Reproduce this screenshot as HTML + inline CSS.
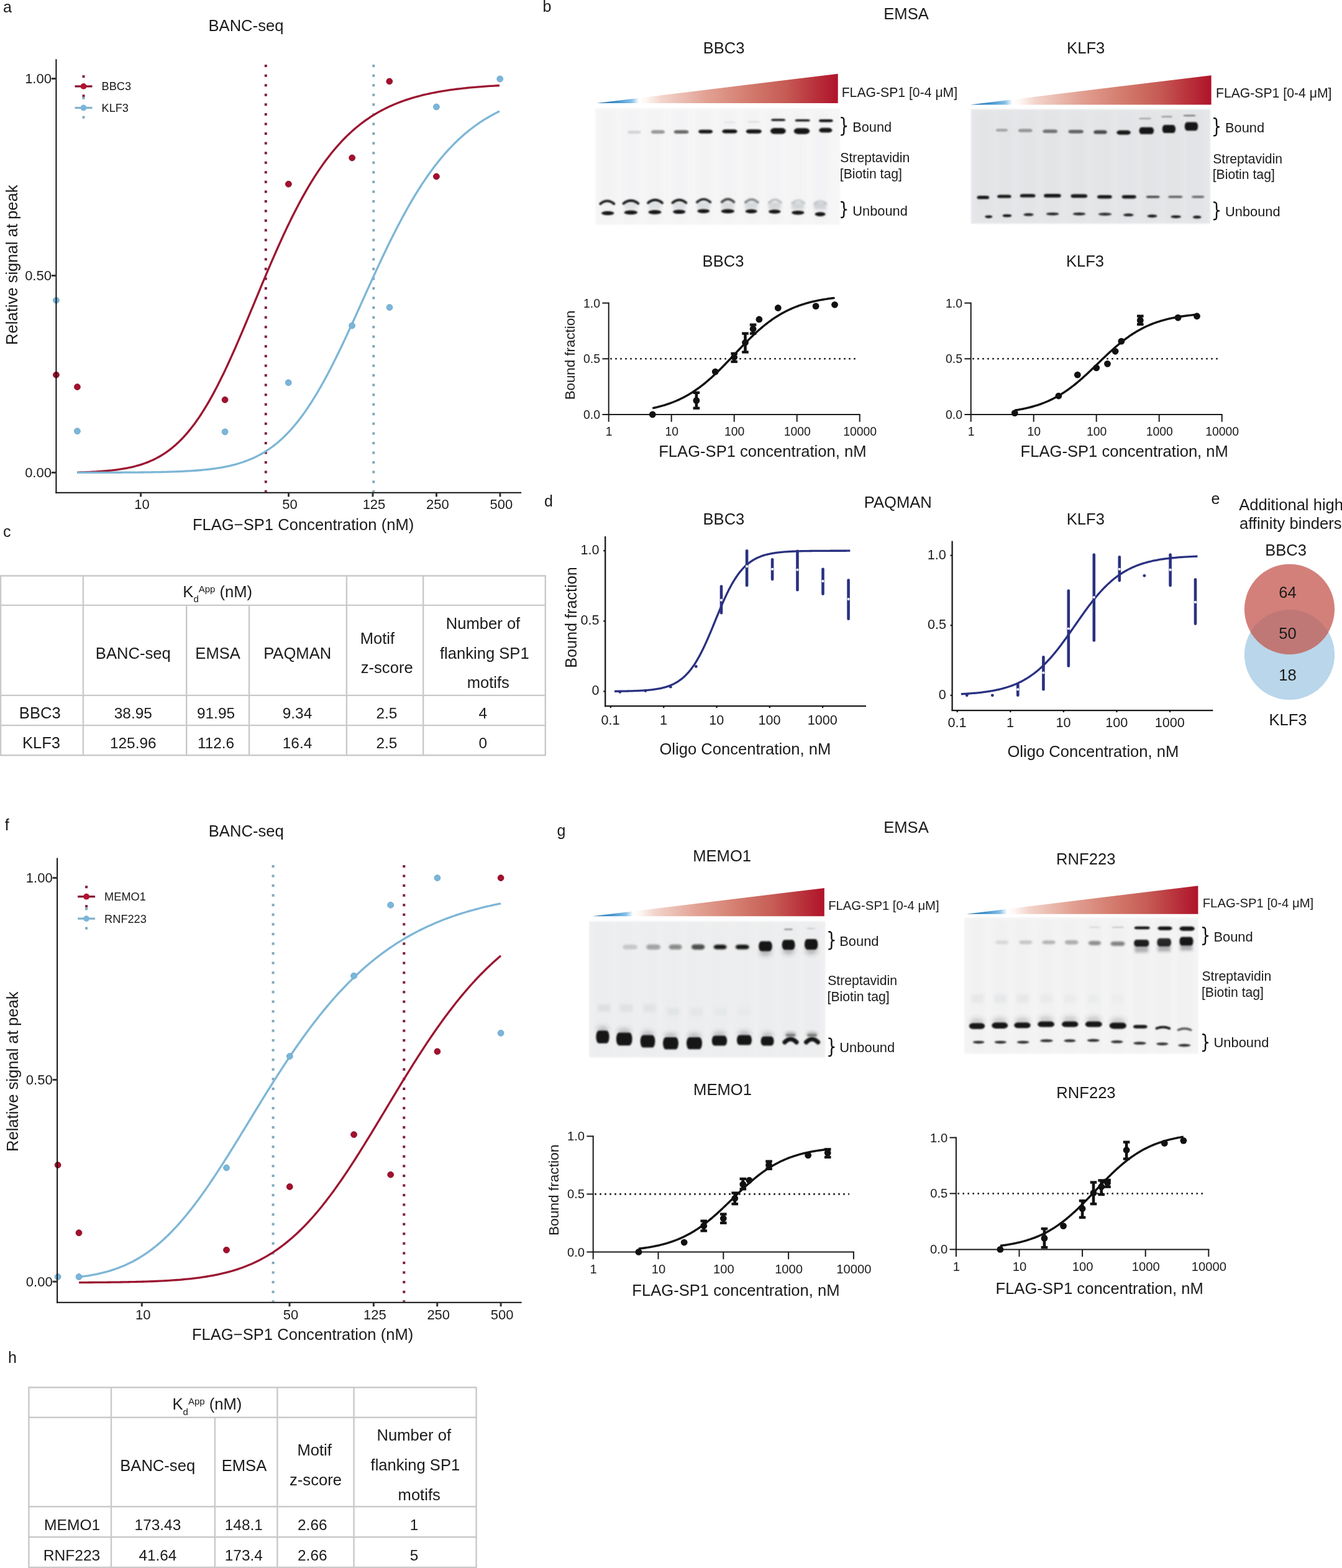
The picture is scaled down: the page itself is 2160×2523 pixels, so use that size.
<!DOCTYPE html>
<html><head><meta charset="utf-8"><title>Figure</title>
<style>
html,body{margin:0;padding:0;background:#fff;}
body{width:2160px;height:2523px;overflow:hidden;}
svg{display:block;}
text{font-family:'Liberation Sans', Arial, Helvetica, sans-serif;}
</style></head><body>
<svg xmlns="http://www.w3.org/2000/svg" width="2160" height="2523" viewBox="0 0 2160 2523">
<defs>
<filter id="b1" x="-100%" y="-400%" width="300%" height="900%"><feGaussianBlur stdDeviation="1.1"/></filter>
<filter id="b15" x="-100%" y="-300%" width="300%" height="700%"><feGaussianBlur stdDeviation="1.6"/></filter>
<filter id="b2" x="-100%" y="-300%" width="300%" height="700%"><feGaussianBlur stdDeviation="2"/></filter>
<filter id="b3" x="-100%" y="-100%" width="300%" height="300%"><feGaussianBlur stdDeviation="3.5"/></filter>
<filter id="b5" x="-20%" y="-20%" width="140%" height="140%"><feGaussianBlur stdDeviation="5"/></filter>
<linearGradient id="tri" x1="0" y1="0" x2="1" y2="0">
<stop offset="0" stop-color="#1d6aab"/>
<stop offset="0.08" stop-color="#3f8fcb"/>
<stop offset="0.145" stop-color="#86c0e6"/>
<stop offset="0.175" stop-color="#ffffff"/>
<stop offset="0.205" stop-color="#fdf6f3"/>
<stop offset="0.27" stop-color="#f2d4cb"/>
<stop offset="0.45" stop-color="#e2a294"/>
<stop offset="0.62" stop-color="#d47e70"/>
<stop offset="0.78" stop-color="#c65c55"/>
<stop offset="0.9" stop-color="#b9333c"/>
<stop offset="1" stop-color="#b0132a"/>
</linearGradient>
<clipPath id="vennclip"><circle cx="2075.5" cy="980.3" r="72.6"/></clipPath>
</defs>
<text x="4.94" y="20.2" font-size="25" text-anchor="start" fill="#1a1a1a">a</text>
<text x="873.49" y="18.5" font-size="25" text-anchor="start" fill="#1a1a1a">b</text>
<text x="5.04" y="863.9" font-size="25" text-anchor="start" fill="#1a1a1a">c</text>
<text x="876.05" y="814.6" font-size="25" text-anchor="start" fill="#1a1a1a">d</text>
<text x="1949.44" y="811.2" font-size="25" text-anchor="start" fill="#1a1a1a">e</text>
<text x="7.75" y="1336.3" font-size="25" text-anchor="start" fill="#1a1a1a">f</text>
<text x="896.45" y="1345.2" font-size="25" text-anchor="start" fill="#1a1a1a">g</text>
<text x="13.07" y="2192.8" font-size="25" text-anchor="start" fill="#1a1a1a">h</text>
<text x="335.5" y="49.5" font-size="25.6" text-anchor="start" fill="#1a1a1a">BANC-seq</text>
<line x1="427.8" y1="104.1" x2="427.8" y2="791.8" stroke="#7e1e42" stroke-width="4" stroke-dasharray="4 11.56"/>
<line x1="601.3" y1="104.1" x2="601.3" y2="791.8" stroke="#80a8bc" stroke-width="4" stroke-dasharray="4 11.56"/>
<path d="M124.3 760.2 L127.4 760.11 L130.51 760.01 L133.61 759.91 L136.71 759.8 L139.82 759.68 L142.92 759.54 L146.03 759.4 L149.13 759.25 L152.23 759.08 L155.34 758.9 L158.44 758.7 L161.54 758.49 L164.65 758.26 L167.75 758.02 L170.85 757.75 L173.96 757.47 L177.06 757.16 L180.17 756.82 L183.27 756.47 L186.37 756.08 L189.48 755.67 L192.58 755.22 L195.68 754.74 L198.79 754.23 L201.89 753.68 L204.99 753.09 L208.1 752.45 L211.2 751.77 L214.31 751.05 L217.41 750.27 L220.51 749.43 L223.62 748.54 L226.72 747.59 L229.82 746.58 L232.93 745.5 L236.03 744.35 L239.14 743.12 L242.24 741.81 L245.34 740.43 L248.45 738.95 L251.55 737.39 L254.65 735.73 L257.76 733.98 L260.86 732.12 L263.96 730.16 L267.07 728.08 L270.17 725.89 L273.28 723.58 L276.38 721.15 L279.48 718.59 L282.59 715.91 L285.69 713.08 L288.79 710.12 L291.9 707.02 L295 703.78 L298.1 700.39 L301.21 696.84 L304.31 693.15 L307.42 689.3 L310.52 685.3 L313.62 681.14 L316.73 676.82 L319.83 672.34 L322.93 667.71 L326.04 662.91 L329.14 657.96 L332.24 652.85 L335.35 647.58 L338.45 642.16 L341.56 636.59 L344.66 630.87 L347.76 625 L350.87 619 L353.97 612.86 L357.07 606.58 L360.18 600.18 L363.28 593.66 L366.38 587.03 L369.49 580.28 L372.59 573.43 L375.7 566.49 L378.8 559.46 L381.9 552.35 L385.01 545.16 L388.11 537.92 L391.21 530.61 L394.32 523.25 L397.42 515.86 L400.53 508.43 L403.63 500.98 L406.73 493.51 L409.84 486.03 L412.94 478.56 L416.04 471.09 L419.15 463.64 L422.25 456.21 L425.35 448.81 L428.46 441.46 L431.56 434.14 L434.67 426.88 L437.77 419.68 L440.87 412.54 L443.98 405.47 L447.08 398.48 L450.18 391.56 L453.29 384.74 L456.39 378 L459.49 371.36 L462.6 364.82 L465.7 358.38 L468.81 352.04 L471.91 345.81 L475.01 339.69 L478.12 333.69 L481.22 327.8 L484.32 322.02 L487.43 316.36 L490.53 310.82 L493.63 305.4 L496.74 300.11 L499.84 294.93 L502.95 289.87 L506.05 284.93 L509.15 280.11 L512.26 275.41 L515.36 270.83 L518.46 266.37 L521.57 262.02 L524.67 257.79 L527.77 253.67 L530.88 249.67 L533.98 245.78 L537.09 242 L540.19 238.33 L543.29 234.76 L546.4 231.3 L549.5 227.94 L552.6 224.68 L555.71 221.52 L558.81 218.45 L561.92 215.48 L565.02 212.61 L568.12 209.82 L571.23 207.12 L574.33 204.51 L577.43 201.99 L580.54 199.54 L583.64 197.17 L586.74 194.89 L589.85 192.67 L592.95 190.54 L596.06 188.47 L599.16 186.47 L602.26 184.54 L605.37 182.68 L608.47 180.88 L611.57 179.14 L614.68 177.47 L617.78 175.85 L620.88 174.28 L623.99 172.78 L627.09 171.32 L630.2 169.92 L633.3 168.56 L636.4 167.26 L639.51 166 L642.61 164.78 L645.71 163.61 L648.82 162.48 L651.92 161.4 L655.02 160.35 L658.13 159.34 L661.23 158.36 L664.34 157.42 L667.44 156.52 L670.54 155.65 L673.65 154.81 L676.75 154 L679.85 153.22 L682.96 152.47 L686.06 151.75 L689.16 151.06 L692.27 150.39 L695.37 149.74 L698.48 149.12 L701.58 148.53 L704.68 147.95 L707.79 147.4 L710.89 146.86 L713.99 146.35 L717.1 145.86 L720.2 145.38 L723.31 144.93 L726.41 144.49 L729.51 144.06 L732.62 143.65 L735.72 143.26 L738.82 142.89 L741.93 142.52 L745.03 142.17 L748.13 141.84 L751.24 141.51 L754.34 141.2 L757.45 140.9 L760.55 140.62 L763.65 140.34 L766.76 140.07 L769.86 139.82 L772.96 139.57 L776.07 139.33 L779.17 139.11 L782.27 138.89 L785.38 138.68 L788.48 138.47 L791.59 138.28 L794.69 138.09 L797.79 137.91 L800.9 137.74 L804 137.57" fill="none" stroke="#9b1631" stroke-width="3.3" stroke-linejoin="round" stroke-linecap="butt"/>
<path d="M124.3 760.4 L127.4 760.4 L130.51 760.39 L133.61 760.39 L136.71 760.39 L139.82 760.38 L142.92 760.38 L146.03 760.37 L149.13 760.37 L152.23 760.36 L155.34 760.36 L158.44 760.35 L161.54 760.35 L164.65 760.34 L167.75 760.33 L170.85 760.32 L173.96 760.32 L177.06 760.31 L180.17 760.3 L183.27 760.28 L186.37 760.27 L189.48 760.26 L192.58 760.25 L195.68 760.23 L198.79 760.22 L201.89 760.2 L204.99 760.18 L208.1 760.16 L211.2 760.14 L214.31 760.12 L217.41 760.09 L220.51 760.07 L223.62 760.04 L226.72 760.01 L229.82 759.98 L232.93 759.94 L236.03 759.9 L239.14 759.86 L242.24 759.82 L245.34 759.77 L248.45 759.72 L251.55 759.67 L254.65 759.61 L257.76 759.55 L260.86 759.48 L263.96 759.41 L267.07 759.34 L270.17 759.25 L273.28 759.17 L276.38 759.07 L279.48 758.97 L282.59 758.86 L285.69 758.74 L288.79 758.62 L291.9 758.49 L295 758.34 L298.1 758.19 L301.21 758.02 L304.31 757.85 L307.42 757.66 L310.52 757.46 L313.62 757.24 L316.73 757.01 L319.83 756.76 L322.93 756.5 L326.04 756.22 L329.14 755.92 L332.24 755.6 L335.35 755.25 L338.45 754.89 L341.56 754.5 L344.66 754.08 L347.76 753.64 L350.87 753.17 L353.97 752.66 L357.07 752.13 L360.18 751.56 L363.28 750.95 L366.38 750.31 L369.49 749.63 L372.59 748.9 L375.7 748.13 L378.8 747.31 L381.9 746.44 L385.01 745.53 L388.11 744.55 L391.21 743.52 L394.32 742.43 L397.42 741.28 L400.53 740.06 L403.63 738.77 L406.73 737.42 L409.84 735.99 L412.94 734.48 L416.04 732.89 L419.15 731.22 L422.25 729.46 L425.35 727.61 L428.46 725.67 L431.56 723.63 L434.67 721.49 L437.77 719.25 L440.87 716.91 L443.98 714.46 L447.08 711.9 L450.18 709.22 L453.29 706.43 L456.39 703.52 L459.49 700.48 L462.6 697.33 L465.7 694.05 L468.81 690.64 L471.91 687.11 L475.01 683.44 L478.12 679.64 L481.22 675.71 L484.32 671.65 L487.43 667.45 L490.53 663.12 L493.63 658.66 L496.74 654.06 L499.84 649.34 L502.95 644.48 L506.05 639.49 L509.15 634.38 L512.26 629.14 L515.36 623.78 L518.46 618.3 L521.57 612.7 L524.67 606.99 L527.77 601.17 L530.88 595.24 L533.98 589.22 L537.09 583.09 L540.19 576.88 L543.29 570.58 L546.4 564.2 L549.5 557.74 L552.6 551.22 L555.71 544.63 L558.81 537.98 L561.92 531.29 L565.02 524.55 L568.12 517.77 L571.23 510.95 L574.33 504.12 L577.43 497.26 L580.54 490.39 L583.64 483.52 L586.74 476.64 L589.85 469.77 L592.95 462.92 L596.06 456.08 L599.16 449.27 L602.26 442.49 L605.37 435.75 L608.47 429.04 L611.57 422.39 L614.68 415.78 L617.78 409.24 L620.88 402.75 L623.99 396.33 L627.09 389.98 L630.2 383.7 L633.3 377.5 L636.4 371.38 L639.51 365.34 L642.61 359.39 L645.71 353.53 L648.82 347.76 L651.92 342.09 L655.02 336.51 L658.13 331.03 L661.23 325.64 L664.34 320.36 L667.44 315.18 L670.54 310.1 L673.65 305.12 L676.75 300.25 L679.85 295.47 L682.96 290.81 L686.06 286.24 L689.16 281.78 L692.27 277.43 L695.37 273.17 L698.48 269.02 L701.58 264.96 L704.68 261.01 L707.79 257.16 L710.89 253.4 L713.99 249.74 L717.1 246.18 L720.2 242.71 L723.31 239.34 L726.41 236.06 L729.51 232.86 L732.62 229.76 L735.72 226.74 L738.82 223.81 L741.93 220.96 L745.03 218.2 L748.13 215.51 L751.24 212.9 L754.34 210.38 L757.45 207.92 L760.55 205.54 L763.65 203.24 L766.76 201 L769.86 198.83 L772.96 196.73 L776.07 194.69 L779.17 192.72 L782.27 190.81 L785.38 188.96 L788.48 187.17 L791.59 185.44 L794.69 183.76 L797.79 182.13 L800.9 180.56 L804 179.04" fill="none" stroke="#7db6d6" stroke-width="3.3" stroke-linejoin="round" stroke-linecap="butt"/>
<circle cx="626.8" cy="130.9" r="4.9" fill="#a50f2d" stroke="#7c0c22" stroke-width="0.9"/>
<circle cx="566.7" cy="254" r="4.9" fill="#a50f2d" stroke="#7c0c22" stroke-width="0.9"/>
<circle cx="464.4" cy="296.2" r="4.9" fill="#a50f2d" stroke="#7c0c22" stroke-width="0.9"/>
<circle cx="702.4" cy="284" r="4.9" fill="#a50f2d" stroke="#7c0c22" stroke-width="0.9"/>
<circle cx="362.1" cy="643.3" r="4.9" fill="#a50f2d" stroke="#7c0c22" stroke-width="0.9"/>
<circle cx="124.4" cy="622.6" r="4.9" fill="#a50f2d" stroke="#7c0c22" stroke-width="0.9"/>
<circle cx="90.4" cy="603.2" r="4.9" fill="#a50f2d" stroke="#7c0c22" stroke-width="0.9"/>
<circle cx="804.7" cy="127" r="4.9" fill="#7ab6da" stroke="#6aa3c6" stroke-width="0.9"/>
<circle cx="702.4" cy="172" r="4.9" fill="#7ab6da" stroke="#6aa3c6" stroke-width="0.9"/>
<circle cx="627" cy="494.6" r="4.9" fill="#7ab6da" stroke="#6aa3c6" stroke-width="0.9"/>
<circle cx="566.6" cy="524" r="4.9" fill="#7ab6da" stroke="#6aa3c6" stroke-width="0.9"/>
<circle cx="464.2" cy="615.7" r="4.9" fill="#7ab6da" stroke="#6aa3c6" stroke-width="0.9"/>
<circle cx="362.1" cy="694.8" r="4.9" fill="#7ab6da" stroke="#6aa3c6" stroke-width="0.9"/>
<circle cx="124.4" cy="693.7" r="4.9" fill="#7ab6da" stroke="#6aa3c6" stroke-width="0.9"/>
<circle cx="90.4" cy="483.3" r="4.9" fill="#7ab6da" stroke="#6aa3c6" stroke-width="0.9"/>
<line x1="90.4" y1="95.3" x2="90.4" y2="793.8" stroke="#111" stroke-width="2"/>
<line x1="89.4" y1="792.8" x2="839.1" y2="792.8" stroke="#111" stroke-width="2"/>
<line x1="82.9" y1="126.5" x2="90.4" y2="126.5" stroke="#333" stroke-width="3"/>
<text x="82.96" y="133.9" font-size="22" text-anchor="end" fill="#1a1a1a">1.00</text>
<line x1="82.9" y1="443.45" x2="90.4" y2="443.45" stroke="#333" stroke-width="3"/>
<text x="82.96" y="450.85" font-size="22" text-anchor="end" fill="#1a1a1a">0.50</text>
<line x1="82.9" y1="760.4" x2="90.4" y2="760.4" stroke="#333" stroke-width="3"/>
<text x="82.96" y="767.8" font-size="22" text-anchor="end" fill="#1a1a1a">0.00</text>
<line x1="226.6" y1="792.8" x2="226.6" y2="799.3" stroke="#333" stroke-width="3"/>
<text x="228.6" y="819.3" font-size="22" text-anchor="middle" fill="#1a1a1a">10</text>
<line x1="464.53" y1="792.8" x2="464.53" y2="799.3" stroke="#333" stroke-width="3"/>
<text x="466.53" y="819.3" font-size="22" text-anchor="middle" fill="#1a1a1a">50</text>
<line x1="599.99" y1="792.8" x2="599.99" y2="799.3" stroke="#333" stroke-width="3"/>
<text x="601.99" y="819.3" font-size="22" text-anchor="middle" fill="#1a1a1a">125</text>
<line x1="702.46" y1="792.8" x2="702.46" y2="799.3" stroke="#333" stroke-width="3"/>
<text x="704.46" y="819.3" font-size="22" text-anchor="middle" fill="#1a1a1a">250</text>
<line x1="804.93" y1="792.8" x2="804.93" y2="799.3" stroke="#333" stroke-width="3"/>
<text x="806.93" y="819.3" font-size="22" text-anchor="middle" fill="#1a1a1a">500</text>
<text x="309.9" y="852.5" font-size="25.6" text-anchor="start" fill="#1a1a1a">FLAG−SP1 Concentration (nM)</text>
<text x="27.7" y="426.2" font-size="25.6" text-anchor="middle" fill="#1a1a1a" transform="rotate(-90 27.7 426.2)">Relative signal at peak</text>
<rect x="132.5" y="121.1" width="4" height="4" fill="#7e1e42"/>
<rect x="132.5" y="152.2" width="4" height="4" fill="#7e1e42"/>
<line x1="120.5" y1="138.9" x2="148.5" y2="138.9" stroke="#861834" stroke-width="3.3"/>
<circle cx="134.5" cy="138.9" r="4.9" fill="#b3112f" stroke="none" stroke-width="0"/>
<text x="163.51" y="145.4" font-size="18.2" text-anchor="start" fill="#1a1a1a">BBC3</text>
<rect x="132.5" y="155.8" width="4" height="4" fill="#80a8bc"/>
<rect x="132.5" y="186.7" width="4" height="4" fill="#80a8bc"/>
<line x1="120.5" y1="173.5" x2="148.5" y2="173.5" stroke="#84b2cb" stroke-width="3.3"/>
<circle cx="134.5" cy="173.5" r="4.9" fill="#7ab6da" stroke="none" stroke-width="0"/>
<text x="163.51" y="180" font-size="18.2" text-anchor="start" fill="#1a1a1a">KLF3</text>
<text x="335.8" y="1345.7" font-size="25.6" text-anchor="start" fill="#1a1a1a">BANC-seq</text>
<line x1="439.6" y1="1392" x2="439.6" y2="2094.7" stroke="#80a8bc" stroke-width="4" stroke-dasharray="4 11.56"/>
<line x1="650.3" y1="1392" x2="650.3" y2="2094.7" stroke="#7e1e42" stroke-width="4" stroke-dasharray="4 11.56"/>
<path d="M127.1 2054.7 L130.2 2054.32 L133.3 2053.91 L136.4 2053.48 L139.5 2053.02 L142.6 2052.54 L145.7 2052.02 L148.8 2051.47 L151.9 2050.88 L155 2050.27 L158.1 2049.61 L161.2 2048.92 L164.3 2048.18 L167.4 2047.41 L170.5 2046.59 L173.6 2045.73 L176.7 2044.82 L179.8 2043.87 L182.9 2042.86 L186 2041.81 L189.1 2040.7 L192.2 2039.53 L195.3 2038.31 L198.4 2037.03 L201.5 2035.69 L204.6 2034.29 L207.7 2032.82 L210.8 2031.3 L213.9 2029.7 L217 2028.04 L220.1 2026.31 L223.2 2024.51 L226.3 2022.63 L229.4 2020.68 L232.5 2018.66 L235.6 2016.57 L238.7 2014.4 L241.8 2012.15 L244.9 2009.82 L248 2007.41 L251.1 2004.93 L254.2 2002.36 L257.3 1999.71 L260.4 1996.99 L263.5 1994.18 L266.6 1991.29 L269.7 1988.32 L272.8 1985.27 L275.9 1982.13 L279 1978.92 L282.1 1975.63 L285.2 1972.26 L288.3 1968.8 L291.4 1965.27 L294.5 1961.67 L297.6 1957.98 L300.7 1954.23 L303.8 1950.39 L306.9 1946.49 L310 1942.52 L313.1 1938.47 L316.2 1934.36 L319.3 1930.18 L322.4 1925.94 L325.5 1921.63 L328.6 1917.27 L331.7 1912.85 L334.8 1908.37 L337.9 1903.84 L341 1899.25 L344.1 1894.62 L347.2 1889.94 L350.3 1885.21 L353.4 1880.45 L356.5 1875.64 L359.6 1870.8 L362.7 1865.93 L365.8 1861.02 L368.9 1856.08 L372 1851.12 L375.1 1846.13 L378.2 1841.13 L381.3 1836.1 L384.4 1831.06 L387.5 1826 L390.6 1820.94 L393.7 1815.87 L396.8 1810.79 L399.9 1805.7 L403 1800.62 L406.1 1795.54 L409.2 1790.47 L412.3 1785.4 L415.4 1780.34 L418.5 1775.29 L421.6 1770.25 L424.7 1765.23 L427.8 1760.23 L430.9 1755.24 L434 1750.28 L437.1 1745.34 L440.2 1740.43 L443.3 1735.54 L446.4 1730.69 L449.5 1725.86 L452.6 1721.06 L455.7 1716.3 L458.8 1711.58 L461.9 1706.89 L465 1702.24 L468.1 1697.62 L471.2 1693.05 L474.3 1688.52 L477.4 1684.03 L480.5 1679.59 L483.6 1675.19 L486.7 1670.83 L489.8 1666.52 L492.9 1662.26 L496 1658.04 L499.1 1653.88 L502.2 1649.76 L505.3 1645.69 L508.4 1641.67 L511.5 1637.7 L514.6 1633.78 L517.7 1629.92 L520.8 1626.1 L523.9 1622.33 L527 1618.62 L530.1 1614.96 L533.2 1611.35 L536.3 1607.79 L539.4 1604.28 L542.5 1600.82 L545.6 1597.42 L548.7 1594.07 L551.8 1590.77 L554.9 1587.52 L558 1584.32 L561.1 1581.17 L564.2 1578.08 L567.3 1575.03 L570.4 1572.03 L573.5 1569.09 L576.6 1566.19 L579.7 1563.34 L582.8 1560.54 L585.9 1557.79 L589 1555.09 L592.1 1552.43 L595.2 1549.82 L598.3 1547.26 L601.4 1544.74 L604.5 1542.27 L607.6 1539.85 L610.7 1537.46 L613.8 1535.13 L616.9 1532.83 L620 1530.58 L623.1 1528.37 L626.2 1526.21 L629.3 1524.08 L632.4 1522 L635.5 1519.95 L638.6 1517.95 L641.7 1515.98 L644.8 1514.05 L647.9 1512.16 L651 1510.31 L654.1 1508.5 L657.2 1506.72 L660.3 1504.98 L663.4 1503.27 L666.5 1501.59 L669.6 1499.95 L672.7 1498.35 L675.8 1496.77 L678.9 1495.23 L682 1493.72 L685.1 1492.25 L688.2 1490.8 L691.3 1489.38 L694.4 1488 L697.5 1486.64 L700.6 1485.31 L703.7 1484.01 L706.8 1482.73 L709.9 1481.49 L713 1480.26 L716.1 1479.07 L719.2 1477.9 L722.3 1476.76 L725.4 1475.64 L728.5 1474.54 L731.6 1473.47 L734.7 1472.43 L737.8 1471.4 L740.9 1470.4 L744 1469.42 L747.1 1468.46 L750.2 1467.52 L753.3 1466.6 L756.4 1465.7 L759.5 1464.83 L762.6 1463.97 L765.7 1463.13 L768.8 1462.31 L771.9 1461.51 L775 1460.72 L778.1 1459.95 L781.2 1459.2 L784.3 1458.47 L787.4 1457.75 L790.5 1457.05 L793.6 1456.37 L796.7 1455.7 L799.8 1455.05 L802.9 1454.41 L806 1453.78" fill="none" stroke="#7db6d6" stroke-width="3.3" stroke-linejoin="round" stroke-linecap="butt"/>
<path d="M127.1 2063.6 L130.2 2063.59 L133.3 2063.57 L136.4 2063.56 L139.5 2063.54 L142.6 2063.52 L145.7 2063.5 L148.8 2063.48 L151.9 2063.46 L155 2063.44 L158.1 2063.41 L161.2 2063.39 L164.3 2063.36 L167.4 2063.33 L170.5 2063.3 L173.6 2063.27 L176.7 2063.24 L179.8 2063.2 L182.9 2063.17 L186 2063.13 L189.1 2063.08 L192.2 2063.04 L195.3 2062.99 L198.4 2062.94 L201.5 2062.89 L204.6 2062.83 L207.7 2062.77 L210.8 2062.71 L213.9 2062.64 L217 2062.57 L220.1 2062.5 L223.2 2062.42 L226.3 2062.34 L229.4 2062.25 L232.5 2062.16 L235.6 2062.06 L238.7 2061.96 L241.8 2061.85 L244.9 2061.73 L248 2061.61 L251.1 2061.48 L254.2 2061.35 L257.3 2061.2 L260.4 2061.05 L263.5 2060.89 L266.6 2060.73 L269.7 2060.55 L272.8 2060.36 L275.9 2060.17 L279 2059.96 L282.1 2059.74 L285.2 2059.51 L288.3 2059.27 L291.4 2059.02 L294.5 2058.75 L297.6 2058.47 L300.7 2058.17 L303.8 2057.86 L306.9 2057.53 L310 2057.19 L313.1 2056.83 L316.2 2056.45 L319.3 2056.05 L322.4 2055.63 L325.5 2055.19 L328.6 2054.73 L331.7 2054.25 L334.8 2053.74 L337.9 2053.21 L341 2052.66 L344.1 2052.07 L347.2 2051.46 L350.3 2050.83 L353.4 2050.16 L356.5 2049.46 L359.6 2048.73 L362.7 2047.97 L365.8 2047.17 L368.9 2046.34 L372 2045.47 L375.1 2044.57 L378.2 2043.62 L381.3 2042.64 L384.4 2041.61 L387.5 2040.54 L390.6 2039.43 L393.7 2038.27 L396.8 2037.06 L399.9 2035.81 L403 2034.51 L406.1 2033.15 L409.2 2031.75 L412.3 2030.29 L415.4 2028.77 L418.5 2027.2 L421.6 2025.57 L424.7 2023.89 L427.8 2022.14 L430.9 2020.33 L434 2018.46 L437.1 2016.53 L440.2 2014.53 L443.3 2012.47 L446.4 2010.34 L449.5 2008.14 L452.6 2005.87 L455.7 2003.54 L458.8 2001.13 L461.9 1998.65 L465 1996.1 L468.1 1993.48 L471.2 1990.78 L474.3 1988.01 L477.4 1985.17 L480.5 1982.25 L483.6 1979.26 L486.7 1976.19 L489.8 1973.05 L492.9 1969.83 L496 1966.54 L499.1 1963.17 L502.2 1959.73 L505.3 1956.22 L508.4 1952.63 L511.5 1948.97 L514.6 1945.23 L517.7 1941.43 L520.8 1937.56 L523.9 1933.61 L527 1929.6 L530.1 1925.52 L533.2 1921.37 L536.3 1917.16 L539.4 1912.89 L542.5 1908.55 L545.6 1904.16 L548.7 1899.71 L551.8 1895.2 L554.9 1890.64 L558 1886.02 L561.1 1881.36 L564.2 1876.64 L567.3 1871.89 L570.4 1867.08 L573.5 1862.24 L576.6 1857.36 L579.7 1852.44 L582.8 1847.49 L585.9 1842.5 L589 1837.49 L592.1 1832.45 L595.2 1827.38 L598.3 1822.3 L601.4 1817.2 L604.5 1812.08 L607.6 1806.94 L610.7 1801.8 L613.8 1796.64 L616.9 1791.49 L620 1786.33 L623.1 1781.16 L626.2 1776 L629.3 1770.85 L632.4 1765.7 L635.5 1760.56 L638.6 1755.43 L641.7 1750.32 L644.8 1745.22 L647.9 1740.14 L651 1735.08 L654.1 1730.05 L657.2 1725.04 L660.3 1720.05 L663.4 1715.1 L666.5 1710.17 L669.6 1705.28 L672.7 1700.42 L675.8 1695.6 L678.9 1690.82 L682 1686.07 L685.1 1681.37 L688.2 1676.71 L691.3 1672.09 L694.4 1667.51 L697.5 1662.99 L700.6 1658.5 L703.7 1654.07 L706.8 1649.68 L709.9 1645.35 L713 1641.06 L716.1 1636.83 L719.2 1632.65 L722.3 1628.52 L725.4 1624.45 L728.5 1620.42 L731.6 1616.46 L734.7 1612.54 L737.8 1608.68 L740.9 1604.88 L744 1601.14 L747.1 1597.44 L750.2 1593.81 L753.3 1590.23 L756.4 1586.7 L759.5 1583.24 L762.6 1579.82 L765.7 1576.47 L768.8 1573.17 L771.9 1569.92 L775 1566.73 L778.1 1563.59 L781.2 1560.51 L784.3 1557.49 L787.4 1554.51 L790.5 1551.59 L793.6 1548.73 L796.7 1545.91 L799.8 1543.15 L802.9 1540.44 L806 1537.79" fill="none" stroke="#9b1631" stroke-width="3.3" stroke-linejoin="round" stroke-linecap="butt"/>
<circle cx="93.1" cy="1874.6" r="4.9" fill="#a50f2d" stroke="#7c0c22" stroke-width="0.9"/>
<circle cx="127" cy="1983.7" r="4.9" fill="#a50f2d" stroke="#7c0c22" stroke-width="0.9"/>
<circle cx="364.5" cy="2011.3" r="4.9" fill="#a50f2d" stroke="#7c0c22" stroke-width="0.9"/>
<circle cx="466.3" cy="1909.5" r="4.9" fill="#a50f2d" stroke="#7c0c22" stroke-width="0.9"/>
<circle cx="569.6" cy="1825.6" r="4.9" fill="#a50f2d" stroke="#7c0c22" stroke-width="0.9"/>
<circle cx="628.7" cy="1890.1" r="4.9" fill="#a50f2d" stroke="#7c0c22" stroke-width="0.9"/>
<circle cx="703.9" cy="1691.9" r="4.9" fill="#a50f2d" stroke="#7c0c22" stroke-width="0.9"/>
<circle cx="806.1" cy="1412.6" r="4.9" fill="#a50f2d" stroke="#7c0c22" stroke-width="0.9"/>
<circle cx="93.1" cy="2054.5" r="4.9" fill="#7ab6da" stroke="#6aa3c6" stroke-width="0.9"/>
<circle cx="127" cy="2054.5" r="4.9" fill="#7ab6da" stroke="#6aa3c6" stroke-width="0.9"/>
<circle cx="364.5" cy="1879" r="4.9" fill="#7ab6da" stroke="#6aa3c6" stroke-width="0.9"/>
<circle cx="466.3" cy="1699.6" r="4.9" fill="#7ab6da" stroke="#6aa3c6" stroke-width="0.9"/>
<circle cx="569.6" cy="1570.2" r="4.9" fill="#7ab6da" stroke="#6aa3c6" stroke-width="0.9"/>
<circle cx="628.7" cy="1456.3" r="4.9" fill="#7ab6da" stroke="#6aa3c6" stroke-width="0.9"/>
<circle cx="703.9" cy="1412.6" r="4.9" fill="#7ab6da" stroke="#6aa3c6" stroke-width="0.9"/>
<circle cx="806.1" cy="1662.3" r="4.9" fill="#7ab6da" stroke="#6aa3c6" stroke-width="0.9"/>
<line x1="92.1" y1="1380.6" x2="92.1" y2="2096.7" stroke="#111" stroke-width="2"/>
<line x1="91.1" y1="2095.7" x2="839.6" y2="2095.7" stroke="#111" stroke-width="2"/>
<line x1="84.6" y1="1412.6" x2="92.1" y2="1412.6" stroke="#333" stroke-width="3"/>
<text x="84.66" y="1420" font-size="22" text-anchor="end" fill="#1a1a1a">1.00</text>
<line x1="84.6" y1="1737.4" x2="92.1" y2="1737.4" stroke="#333" stroke-width="3"/>
<text x="84.66" y="1744.8" font-size="22" text-anchor="end" fill="#1a1a1a">0.50</text>
<line x1="84.6" y1="2062.2" x2="92.1" y2="2062.2" stroke="#333" stroke-width="3"/>
<text x="84.66" y="2069.6" font-size="22" text-anchor="end" fill="#1a1a1a">0.00</text>
<line x1="228.3" y1="2095.7" x2="228.3" y2="2102.2" stroke="#333" stroke-width="3"/>
<text x="230.3" y="2123.2" font-size="22" text-anchor="middle" fill="#1a1a1a">10</text>
<line x1="466.02" y1="2095.7" x2="466.02" y2="2102.2" stroke="#333" stroke-width="3"/>
<text x="468.02" y="2123.2" font-size="22" text-anchor="middle" fill="#1a1a1a">50</text>
<line x1="601.36" y1="2095.7" x2="601.36" y2="2102.2" stroke="#333" stroke-width="3"/>
<text x="603.36" y="2123.2" font-size="22" text-anchor="middle" fill="#1a1a1a">125</text>
<line x1="703.74" y1="2095.7" x2="703.74" y2="2102.2" stroke="#333" stroke-width="3"/>
<text x="705.74" y="2123.2" font-size="22" text-anchor="middle" fill="#1a1a1a">250</text>
<line x1="806.12" y1="2095.7" x2="806.12" y2="2102.2" stroke="#333" stroke-width="3"/>
<text x="808.12" y="2123.2" font-size="22" text-anchor="middle" fill="#1a1a1a">500</text>
<text x="308.9" y="2156.2" font-size="25.6" text-anchor="start" fill="#1a1a1a">FLAG−SP1 Concentration (nM)</text>
<text x="29.5" y="1724.3" font-size="25.6" text-anchor="middle" fill="#1a1a1a" transform="rotate(-90 29.5 1724.3)">Relative signal at peak</text>
<rect x="137.1" y="1425.2" width="4" height="4" fill="#7e1e42"/>
<rect x="137.1" y="1456.2" width="4" height="4" fill="#7e1e42"/>
<line x1="125.1" y1="1442.7" x2="153.1" y2="1442.7" stroke="#861834" stroke-width="3.3"/>
<circle cx="139.1" cy="1442.7" r="4.9" fill="#b3112f" stroke="none" stroke-width="0"/>
<text x="168.11" y="1449.2" font-size="18.2" text-anchor="start" fill="#1a1a1a">MEMO1</text>
<rect x="137.1" y="1460.4" width="4" height="4" fill="#80a8bc"/>
<rect x="137.1" y="1491.6" width="4" height="4" fill="#80a8bc"/>
<line x1="125.1" y1="1478.1" x2="153.1" y2="1478.1" stroke="#84b2cb" stroke-width="3.3"/>
<circle cx="139.1" cy="1478.1" r="4.9" fill="#7ab6da" stroke="none" stroke-width="0"/>
<text x="168.11" y="1484.6" font-size="18.2" text-anchor="start" fill="#1a1a1a">RNF223</text>
<text x="1130.6" y="429" font-size="25.6" text-anchor="start" fill="#1a1a1a">BBC3</text>
<line x1="982.2" y1="577.3" x2="1379" y2="577.3" stroke="#1a1a1a" stroke-width="2.6" stroke-dasharray="2.6 5.4"/>
<line x1="979.7" y1="486.6" x2="979.7" y2="668" stroke="#1a1a1a" stroke-width="2"/>
<line x1="978.7" y1="667" x2="1384.6" y2="667" stroke="#1a1a1a" stroke-width="2"/>
<line x1="969.4" y1="487.6" x2="979.7" y2="487.6" stroke="#1a1a1a" stroke-width="2"/>
<text x="965.96" y="494.6" font-size="19.4" text-anchor="end" fill="#1a1a1a">1.0</text>
<line x1="969.4" y1="577.3" x2="979.7" y2="577.3" stroke="#1a1a1a" stroke-width="2"/>
<text x="966.01" y="584.3" font-size="19.4" text-anchor="end" fill="#1a1a1a">0.5</text>
<line x1="969.4" y1="667" x2="979.7" y2="667" stroke="#1a1a1a" stroke-width="2"/>
<text x="965.96" y="674" font-size="19.4" text-anchor="end" fill="#1a1a1a">0.0</text>
<line x1="979.7" y1="667" x2="979.7" y2="678.7" stroke="#1a1a1a" stroke-width="2"/>
<text x="980.2" y="701.3" font-size="19.4" text-anchor="middle" fill="#1a1a1a">1</text>
<line x1="1080.7" y1="667" x2="1080.7" y2="678.7" stroke="#1a1a1a" stroke-width="2"/>
<text x="1081.2" y="701.3" font-size="19.4" text-anchor="middle" fill="#1a1a1a">10</text>
<line x1="1181.7" y1="667" x2="1181.7" y2="678.7" stroke="#1a1a1a" stroke-width="2"/>
<text x="1182.2" y="701.3" font-size="19.4" text-anchor="middle" fill="#1a1a1a">100</text>
<line x1="1282.7" y1="667" x2="1282.7" y2="678.7" stroke="#1a1a1a" stroke-width="2"/>
<text x="1283.2" y="701.3" font-size="19.4" text-anchor="middle" fill="#1a1a1a">1000</text>
<line x1="1383.7" y1="667" x2="1383.7" y2="678.7" stroke="#1a1a1a" stroke-width="2"/>
<text x="1384.2" y="701.3" font-size="19.4" text-anchor="middle" fill="#1a1a1a">10000</text>
<text x="1060.2" y="735.3" font-size="25.6" text-anchor="start" fill="#1a1a1a">FLAG-SP1 concentration, nM</text>
<text x="924.8" y="571.4" font-size="22.3" text-anchor="middle" fill="#1a1a1a" transform="rotate(-90 924.8 571.4)">Bound fraction</text>
<path d="M1050.3 656.8 L1052.14 656.4 L1053.98 655.98 L1055.83 655.56 L1057.67 655.11 L1059.52 654.66 L1061.36 654.18 L1063.2 653.69 L1065.05 653.18 L1066.89 652.65 L1068.74 652.1 L1070.58 651.54 L1072.43 650.96 L1074.27 650.35 L1076.11 649.73 L1077.96 649.08 L1079.8 648.41 L1081.65 647.72 L1083.49 647.01 L1085.33 646.27 L1087.18 645.51 L1089.02 644.73 L1090.87 643.92 L1092.71 643.09 L1094.55 642.23 L1096.4 641.34 L1098.24 640.43 L1100.09 639.49 L1101.93 638.52 L1103.77 637.53 L1105.62 636.5 L1107.46 635.45 L1109.31 634.37 L1111.15 633.26 L1113 632.12 L1114.84 630.95 L1116.68 629.75 L1118.53 628.52 L1120.37 627.26 L1122.22 625.97 L1124.06 624.64 L1125.9 623.29 L1127.75 621.91 L1129.59 620.5 L1131.44 619.06 L1133.28 617.59 L1135.12 616.09 L1136.97 614.56 L1138.81 613 L1140.66 611.41 L1142.5 609.8 L1144.35 608.16 L1146.19 606.49 L1148.03 604.8 L1149.88 603.09 L1151.72 601.35 L1153.57 599.58 L1155.41 597.8 L1157.25 595.99 L1159.1 594.17 L1160.94 592.33 L1162.79 590.47 L1164.63 588.59 L1166.47 586.71 L1168.32 584.8 L1170.16 582.89 L1172.01 580.97 L1173.85 579.04 L1175.69 577.1 L1177.54 575.15 L1179.38 573.2 L1181.23 571.25 L1183.07 569.3 L1184.92 567.35 L1186.76 565.41 L1188.6 563.46 L1190.45 561.53 L1192.29 559.6 L1194.14 557.67 L1195.98 555.76 L1197.82 553.86 L1199.67 551.98 L1201.51 550.1 L1203.36 548.25 L1205.2 546.41 L1207.04 544.59 L1208.89 542.79 L1210.73 541.01 L1212.58 539.25 L1214.42 537.51 L1216.27 535.8 L1218.11 534.11 L1219.95 532.45 L1221.8 530.82 L1223.64 529.21 L1225.49 527.63 L1227.33 526.07 L1229.17 524.55 L1231.02 523.05 L1232.86 521.59 L1234.71 520.15 L1236.55 518.75 L1238.39 517.37 L1240.24 516.02 L1242.08 514.71 L1243.93 513.42 L1245.77 512.17 L1247.61 510.94 L1249.46 509.75 L1251.3 508.58 L1253.15 507.45 L1254.99 506.34 L1256.84 505.27 L1258.68 504.22 L1260.52 503.2 L1262.37 502.21 L1264.21 501.25 L1266.06 500.31 L1267.9 499.41 L1269.74 498.52 L1271.59 497.67 L1273.43 496.84 L1275.28 496.03 L1277.12 495.26 L1278.96 494.5 L1280.81 493.77 L1282.65 493.06 L1284.5 492.37 L1286.34 491.71 L1288.19 491.07 L1290.03 490.44 L1291.87 489.84 L1293.72 489.26 L1295.56 488.7 L1297.41 488.16 L1299.25 487.63 L1301.09 487.13 L1302.94 486.64 L1304.78 486.17 L1306.63 485.71 L1308.47 485.27 L1310.31 484.84 L1312.16 484.44 L1314 484.04 L1315.85 483.66 L1317.69 483.29 L1319.53 482.94 L1321.38 482.6 L1323.22 482.27 L1325.07 481.95 L1326.91 481.64 L1328.76 481.35 L1330.6 481.06 L1332.44 480.79 L1334.29 480.53 L1336.13 480.27 L1337.98 480.03 L1339.82 479.79 L1341.66 479.57 L1343.51 479.35" fill="none" stroke="#111" stroke-width="3.4" stroke-linejoin="round" stroke-linecap="butt"/>
<circle cx="1050.3" cy="667" r="5.4" fill="#111" stroke="none" stroke-width="0"/>
<line x1="1120.89" y1="656.77" x2="1120.89" y2="631.84" stroke="#111" stroke-width="4.6"/>
<rect x="1115.59" y="654.62" width="10.6" height="4.3" fill="#111"/>
<rect x="1115.59" y="629.69" width="10.6" height="4.3" fill="#111"/>
<circle cx="1120.89" cy="644.4" r="5.4" fill="#111" stroke="none" stroke-width="0"/>
<circle cx="1151.3" cy="598.11" r="5.4" fill="#111" stroke="none" stroke-width="0"/>
<line x1="1181.7" y1="581.96" x2="1181.7" y2="568.87" stroke="#111" stroke-width="4.6"/>
<rect x="1176.4" y="579.81" width="10.6" height="4.3" fill="#111"/>
<rect x="1176.4" y="566.72" width="10.6" height="4.3" fill="#111"/>
<circle cx="1181.7" cy="574.79" r="5.4" fill="#111" stroke="none" stroke-width="0"/>
<line x1="1199.49" y1="566.54" x2="1199.49" y2="536.58" stroke="#111" stroke-width="4.6"/>
<rect x="1194.19" y="564.39" width="10.6" height="4.3" fill="#111"/>
<rect x="1194.19" y="534.43" width="10.6" height="4.3" fill="#111"/>
<circle cx="1199.49" cy="551.29" r="5.4" fill="#111" stroke="none" stroke-width="0"/>
<line x1="1212.1" y1="536.58" x2="1212.1" y2="522.58" stroke="#111" stroke-width="4.6"/>
<rect x="1206.8" y="534.43" width="10.6" height="4.3" fill="#111"/>
<rect x="1206.8" y="520.43" width="10.6" height="4.3" fill="#111"/>
<circle cx="1212.1" cy="529.22" r="5.4" fill="#111" stroke="none" stroke-width="0"/>
<circle cx="1221.89" cy="513.97" r="5.4" fill="#111" stroke="none" stroke-width="0"/>
<circle cx="1252.3" cy="495.49" r="5.4" fill="#111" stroke="none" stroke-width="0"/>
<circle cx="1313.1" cy="492.62" r="5.4" fill="#111" stroke="none" stroke-width="0"/>
<circle cx="1343.51" cy="490.29" r="5.4" fill="#111" stroke="none" stroke-width="0"/>
<text x="1715.9" y="429" font-size="25.6" text-anchor="start" fill="#1a1a1a">KLF3</text>
<line x1="1565.2" y1="577.3" x2="1961" y2="577.3" stroke="#1a1a1a" stroke-width="2.6" stroke-dasharray="2.6 5.4"/>
<line x1="1562.7" y1="486.6" x2="1562.7" y2="668" stroke="#1a1a1a" stroke-width="2"/>
<line x1="1561.7" y1="667" x2="1967.6" y2="667" stroke="#1a1a1a" stroke-width="2"/>
<line x1="1552.4" y1="487.6" x2="1562.7" y2="487.6" stroke="#1a1a1a" stroke-width="2"/>
<text x="1548.96" y="494.6" font-size="19.4" text-anchor="end" fill="#1a1a1a">1.0</text>
<line x1="1552.4" y1="577.3" x2="1562.7" y2="577.3" stroke="#1a1a1a" stroke-width="2"/>
<text x="1549.01" y="584.3" font-size="19.4" text-anchor="end" fill="#1a1a1a">0.5</text>
<line x1="1552.4" y1="667" x2="1562.7" y2="667" stroke="#1a1a1a" stroke-width="2"/>
<text x="1548.96" y="674" font-size="19.4" text-anchor="end" fill="#1a1a1a">0.0</text>
<line x1="1562.7" y1="667" x2="1562.7" y2="678.7" stroke="#1a1a1a" stroke-width="2"/>
<text x="1563.2" y="701.3" font-size="19.4" text-anchor="middle" fill="#1a1a1a">1</text>
<line x1="1663.7" y1="667" x2="1663.7" y2="678.7" stroke="#1a1a1a" stroke-width="2"/>
<text x="1664.2" y="701.3" font-size="19.4" text-anchor="middle" fill="#1a1a1a">10</text>
<line x1="1764.7" y1="667" x2="1764.7" y2="678.7" stroke="#1a1a1a" stroke-width="2"/>
<text x="1765.2" y="701.3" font-size="19.4" text-anchor="middle" fill="#1a1a1a">100</text>
<line x1="1865.7" y1="667" x2="1865.7" y2="678.7" stroke="#1a1a1a" stroke-width="2"/>
<text x="1866.2" y="701.3" font-size="19.4" text-anchor="middle" fill="#1a1a1a">1000</text>
<line x1="1966.7" y1="667" x2="1966.7" y2="678.7" stroke="#1a1a1a" stroke-width="2"/>
<text x="1967.2" y="701.3" font-size="19.4" text-anchor="middle" fill="#1a1a1a">10000</text>
<text x="1642.6" y="735.3" font-size="25.6" text-anchor="start" fill="#1a1a1a">FLAG-SP1 concentration, nM</text>
<text x="-1000" y="-1000" font-size="21.9" text-anchor="middle" fill="#1a1a1a" transform="rotate(-90 -1000 -1000)">Bound fraction</text>
<path d="M1633.3 660.24 L1635.14 659.95 L1636.98 659.65 L1638.83 659.34 L1640.67 659.02 L1642.52 658.68 L1644.36 658.33 L1646.2 657.97 L1648.05 657.59 L1649.89 657.2 L1651.74 656.79 L1653.58 656.37 L1655.43 655.93 L1657.27 655.48 L1659.11 655 L1660.96 654.51 L1662.8 654 L1664.65 653.47 L1666.49 652.93 L1668.33 652.36 L1670.18 651.77 L1672.02 651.16 L1673.87 650.53 L1675.71 649.87 L1677.55 649.2 L1679.4 648.5 L1681.24 647.77 L1683.09 647.03 L1684.93 646.25 L1686.77 645.45 L1688.62 644.63 L1690.46 643.78 L1692.31 642.9 L1694.15 642 L1696 641.06 L1697.84 640.1 L1699.68 639.11 L1701.53 638.09 L1703.37 637.05 L1705.22 635.97 L1707.06 634.86 L1708.9 633.73 L1710.75 632.56 L1712.59 631.37 L1714.44 630.14 L1716.28 628.89 L1718.12 627.6 L1719.97 626.29 L1721.81 624.95 L1723.66 623.58 L1725.5 622.18 L1727.35 620.75 L1729.19 619.3 L1731.03 617.81 L1732.88 616.31 L1734.72 614.77 L1736.57 613.22 L1738.41 611.63 L1740.25 610.03 L1742.1 608.41 L1743.94 606.76 L1745.79 605.1 L1747.63 603.41 L1749.47 601.71 L1751.32 600 L1753.16 598.27 L1755.01 596.53 L1756.85 594.78 L1758.69 593.02 L1760.54 591.25 L1762.38 589.47 L1764.23 587.69 L1766.07 585.91 L1767.92 584.13 L1769.76 582.35 L1771.6 580.57 L1773.45 578.79 L1775.29 577.02 L1777.14 575.25 L1778.98 573.5 L1780.82 571.75 L1782.67 570.02 L1784.51 568.3 L1786.36 566.6 L1788.2 564.91 L1790.04 563.24 L1791.89 561.59 L1793.73 559.95 L1795.58 558.34 L1797.42 556.75 L1799.27 555.19 L1801.11 553.65 L1802.95 552.13 L1804.8 550.64 L1806.64 549.17 L1808.49 547.74 L1810.33 546.33 L1812.17 544.95 L1814.02 543.59 L1815.86 542.27 L1817.71 540.97 L1819.55 539.71 L1821.39 538.47 L1823.24 537.27 L1825.08 536.09 L1826.93 534.95 L1828.77 533.83 L1830.61 532.74 L1832.46 531.69 L1834.3 530.66 L1836.15 529.66 L1837.99 528.69 L1839.84 527.74 L1841.68 526.83 L1843.52 525.94 L1845.37 525.08 L1847.21 524.25 L1849.06 523.44 L1850.9 522.66 L1852.74 521.9 L1854.59 521.17 L1856.43 520.46 L1858.28 519.77 L1860.12 519.11 L1861.96 518.47 L1863.81 517.86 L1865.65 517.26 L1867.5 516.68 L1869.34 516.13 L1871.19 515.59 L1873.03 515.08 L1874.87 514.58 L1876.72 514.1 L1878.56 513.64 L1880.41 513.19 L1882.25 512.77 L1884.09 512.35 L1885.94 511.96 L1887.78 511.57 L1889.63 511.21 L1891.47 510.85 L1893.31 510.51 L1895.16 510.18 L1897 509.87 L1898.85 509.57 L1900.69 509.28 L1902.53 509 L1904.38 508.73 L1906.22 508.47 L1908.07 508.22 L1909.91 507.98 L1911.76 507.76 L1913.6 507.54 L1915.44 507.32 L1917.29 507.12 L1919.13 506.93 L1920.98 506.74 L1922.82 506.56 L1924.66 506.39 L1926.51 506.23" fill="none" stroke="#111" stroke-width="3.4" stroke-linejoin="round" stroke-linecap="butt"/>
<circle cx="1633.3" cy="664.67" r="5.4" fill="#111" stroke="none" stroke-width="0"/>
<circle cx="1703.89" cy="637.04" r="5.4" fill="#111" stroke="none" stroke-width="0"/>
<circle cx="1734.3" cy="603.13" r="5.4" fill="#111" stroke="none" stroke-width="0"/>
<circle cx="1764.7" cy="591.83" r="5.4" fill="#111" stroke="none" stroke-width="0"/>
<circle cx="1782.49" cy="585.37" r="5.4" fill="#111" stroke="none" stroke-width="0"/>
<circle cx="1795.1" cy="565.28" r="5.4" fill="#111" stroke="none" stroke-width="0"/>
<circle cx="1804.89" cy="549.13" r="5.4" fill="#111" stroke="none" stroke-width="0"/>
<line x1="1835.3" y1="521.87" x2="1835.3" y2="508.59" stroke="#111" stroke-width="4.6"/>
<rect x="1830" y="519.72" width="10.6" height="4.3" fill="#111"/>
<rect x="1830" y="506.44" width="10.6" height="4.3" fill="#111"/>
<circle cx="1835.3" cy="515.41" r="5.4" fill="#111" stroke="none" stroke-width="0"/>
<circle cx="1896.1" cy="511.1" r="5.4" fill="#111" stroke="none" stroke-width="0"/>
<circle cx="1926.51" cy="508.77" r="5.4" fill="#111" stroke="none" stroke-width="0"/>
<text x="1116.1" y="1761.7" font-size="25.6" text-anchor="start" fill="#1a1a1a">MEMO1</text>
<line x1="957.2" y1="1921.4" x2="1367" y2="1921.4" stroke="#1a1a1a" stroke-width="2.6" stroke-dasharray="2.6 5.4"/>
<line x1="954.7" y1="1827.3" x2="954.7" y2="2015.5" stroke="#1a1a1a" stroke-width="2"/>
<line x1="953.7" y1="2014.5" x2="1374.9" y2="2014.5" stroke="#1a1a1a" stroke-width="2"/>
<line x1="944.4" y1="1828.3" x2="954.7" y2="1828.3" stroke="#1a1a1a" stroke-width="2"/>
<text x="940.99" y="1835.3" font-size="20.2" text-anchor="end" fill="#1a1a1a">1.0</text>
<line x1="944.4" y1="1921.4" x2="954.7" y2="1921.4" stroke="#1a1a1a" stroke-width="2"/>
<text x="941.05" y="1928.4" font-size="20.2" text-anchor="end" fill="#1a1a1a">0.5</text>
<line x1="944.4" y1="2014.5" x2="954.7" y2="2014.5" stroke="#1a1a1a" stroke-width="2"/>
<text x="940.99" y="2021.5" font-size="20.2" text-anchor="end" fill="#1a1a1a">0.0</text>
<line x1="954.7" y1="2014.5" x2="954.7" y2="2026.2" stroke="#1a1a1a" stroke-width="2"/>
<text x="955.2" y="2048.9" font-size="20.2" text-anchor="middle" fill="#1a1a1a">1</text>
<line x1="1059.5" y1="2014.5" x2="1059.5" y2="2026.2" stroke="#1a1a1a" stroke-width="2"/>
<text x="1060" y="2048.9" font-size="20.2" text-anchor="middle" fill="#1a1a1a">10</text>
<line x1="1164.3" y1="2014.5" x2="1164.3" y2="2026.2" stroke="#1a1a1a" stroke-width="2"/>
<text x="1164.8" y="2048.9" font-size="20.2" text-anchor="middle" fill="#1a1a1a">100</text>
<line x1="1269.1" y1="2014.5" x2="1269.1" y2="2026.2" stroke="#1a1a1a" stroke-width="2"/>
<text x="1269.6" y="2048.9" font-size="20.2" text-anchor="middle" fill="#1a1a1a">1000</text>
<line x1="1373.9" y1="2014.5" x2="1373.9" y2="2026.2" stroke="#1a1a1a" stroke-width="2"/>
<text x="1374.4" y="2048.9" font-size="20.2" text-anchor="middle" fill="#1a1a1a">10000</text>
<text x="1017.3" y="2084.6" font-size="25.6" text-anchor="start" fill="#1a1a1a">FLAG-SP1 concentration, nM</text>
<text x="899.5" y="1914.9" font-size="22.7" text-anchor="middle" fill="#1a1a1a" transform="rotate(-90 899.5 1914.9)">Bound fraction</text>
<path d="M1027.95 2009.24 L1029.87 2009.02 L1031.78 2008.78 L1033.69 2008.53 L1035.61 2008.28 L1037.52 2008.01 L1039.43 2007.73 L1041.35 2007.44 L1043.26 2007.13 L1045.17 2006.82 L1047.09 2006.49 L1049 2006.15 L1050.91 2005.8 L1052.83 2005.43 L1054.74 2005.04 L1056.65 2004.65 L1058.57 2004.23 L1060.48 2003.8 L1062.39 2003.35 L1064.31 2002.89 L1066.22 2002.41 L1068.14 2001.9 L1070.05 2001.38 L1071.96 2000.84 L1073.88 2000.28 L1075.79 1999.7 L1077.7 1999.1 L1079.62 1998.48 L1081.53 1997.83 L1083.44 1997.16 L1085.36 1996.46 L1087.27 1995.75 L1089.18 1995 L1091.1 1994.23 L1093.01 1993.44 L1094.92 1992.62 L1096.84 1991.77 L1098.75 1990.89 L1100.66 1989.99 L1102.58 1989.06 L1104.49 1988.09 L1106.4 1987.1 L1108.32 1986.08 L1110.23 1985.03 L1112.15 1983.95 L1114.06 1982.83 L1115.97 1981.69 L1117.89 1980.51 L1119.8 1979.31 L1121.71 1978.07 L1123.63 1976.8 L1125.54 1975.5 L1127.45 1974.17 L1129.37 1972.8 L1131.28 1971.41 L1133.19 1969.99 L1135.11 1968.53 L1137.02 1967.05 L1138.93 1965.54 L1140.85 1963.99 L1142.76 1962.43 L1144.67 1960.83 L1146.59 1959.21 L1148.5 1957.56 L1150.41 1955.89 L1152.33 1954.2 L1154.24 1952.48 L1156.16 1950.75 L1158.07 1948.99 L1159.98 1947.22 L1161.9 1945.43 L1163.81 1943.63 L1165.72 1941.81 L1167.64 1939.98 L1169.55 1938.14 L1171.46 1936.3 L1173.38 1934.44 L1175.29 1932.59 L1177.2 1930.73 L1179.12 1928.86 L1181.03 1927 L1182.94 1925.14 L1184.86 1923.29 L1186.77 1921.44 L1188.68 1919.6 L1190.6 1917.76 L1192.51 1915.94 L1194.43 1914.13 L1196.34 1912.34 L1198.25 1910.56 L1200.17 1908.8 L1202.08 1907.06 L1203.99 1905.33 L1205.91 1903.63 L1207.82 1901.95 L1209.73 1900.3 L1211.65 1898.67 L1213.56 1897.06 L1215.47 1895.48 L1217.39 1893.93 L1219.3 1892.41 L1221.21 1890.91 L1223.13 1889.45 L1225.04 1888.01 L1226.95 1886.61 L1228.87 1885.23 L1230.78 1883.89 L1232.69 1882.58 L1234.61 1881.3 L1236.52 1880.05 L1238.44 1878.83 L1240.35 1877.64 L1242.26 1876.49 L1244.18 1875.36 L1246.09 1874.27 L1248 1873.2 L1249.92 1872.17 L1251.83 1871.17 L1253.74 1870.2 L1255.66 1869.25 L1257.57 1868.34 L1259.48 1867.45 L1261.4 1866.59 L1263.31 1865.76 L1265.22 1864.95 L1267.14 1864.18 L1269.05 1863.42 L1270.96 1862.7 L1272.88 1861.99 L1274.79 1861.31 L1276.7 1860.66 L1278.62 1860.03 L1280.53 1859.42 L1282.45 1858.83 L1284.36 1858.26 L1286.27 1857.71 L1288.19 1857.18 L1290.1 1856.68 L1292.01 1856.19 L1293.93 1855.71 L1295.84 1855.26 L1297.75 1854.82 L1299.67 1854.4 L1301.58 1854 L1303.49 1853.61 L1305.41 1853.23 L1307.32 1852.88 L1309.23 1852.53 L1311.15 1852.2 L1313.06 1851.88 L1314.97 1851.57 L1316.89 1851.28 L1318.8 1850.99 L1320.71 1850.72 L1322.63 1850.46 L1324.54 1850.21 L1326.46 1849.97 L1328.37 1849.74 L1330.28 1849.51 L1332.2 1849.3" fill="none" stroke="#111" stroke-width="3.4" stroke-linejoin="round" stroke-linecap="butt"/>
<circle cx="1027.95" cy="2014.5" r="5.4" fill="#111" stroke="none" stroke-width="0"/>
<circle cx="1101.2" cy="1999.05" r="5.4" fill="#111" stroke="none" stroke-width="0"/>
<line x1="1132.75" y1="1980.43" x2="1132.75" y2="1964.6" stroke="#111" stroke-width="4.6"/>
<rect x="1127.45" y="1978.28" width="10.6" height="4.3" fill="#111"/>
<rect x="1127.45" y="1962.45" width="10.6" height="4.3" fill="#111"/>
<circle cx="1132.75" cy="1972.42" r="5.4" fill="#111" stroke="none" stroke-width="0"/>
<line x1="1164.3" y1="1967.76" x2="1164.3" y2="1953.61" stroke="#111" stroke-width="4.6"/>
<rect x="1159" y="1965.61" width="10.6" height="4.3" fill="#111"/>
<rect x="1159" y="1951.46" width="10.6" height="4.3" fill="#111"/>
<circle cx="1164.3" cy="1960.5" r="5.4" fill="#111" stroke="none" stroke-width="0"/>
<line x1="1182.75" y1="1937.23" x2="1182.75" y2="1919.54" stroke="#111" stroke-width="4.6"/>
<rect x="1177.45" y="1935.08" width="10.6" height="4.3" fill="#111"/>
<rect x="1177.45" y="1917.39" width="10.6" height="4.3" fill="#111"/>
<circle cx="1182.75" cy="1928.29" r="5.4" fill="#111" stroke="none" stroke-width="0"/>
<line x1="1195.85" y1="1913.21" x2="1195.85" y2="1896.82" stroke="#111" stroke-width="4.6"/>
<rect x="1190.55" y="1911.06" width="10.6" height="4.3" fill="#111"/>
<rect x="1190.55" y="1894.67" width="10.6" height="4.3" fill="#111"/>
<circle cx="1195.85" cy="1905.57" r="5.4" fill="#111" stroke="none" stroke-width="0"/>
<circle cx="1206" cy="1899.24" r="5.4" fill="#111" stroke="none" stroke-width="0"/>
<line x1="1237.55" y1="1880.81" x2="1237.55" y2="1868.71" stroke="#111" stroke-width="4.6"/>
<rect x="1232.25" y="1878.66" width="10.6" height="4.3" fill="#111"/>
<rect x="1232.25" y="1866.56" width="10.6" height="4.3" fill="#111"/>
<circle cx="1237.55" cy="1874.66" r="5.4" fill="#111" stroke="none" stroke-width="0"/>
<circle cx="1300.65" cy="1858.84" r="5.4" fill="#111" stroke="none" stroke-width="0"/>
<line x1="1332.2" y1="1862" x2="1332.2" y2="1849.34" stroke="#111" stroke-width="4.6"/>
<rect x="1326.9" y="1859.85" width="10.6" height="4.3" fill="#111"/>
<rect x="1326.9" y="1847.19" width="10.6" height="4.3" fill="#111"/>
<circle cx="1332.2" cy="1855.11" r="5.4" fill="#111" stroke="none" stroke-width="0"/>
<text x="1700.3" y="1767.3" font-size="25.6" text-anchor="start" fill="#1a1a1a">RNF223</text>
<line x1="1541.4" y1="1920.45" x2="1940" y2="1920.45" stroke="#1a1a1a" stroke-width="2.6" stroke-dasharray="2.6 5.4"/>
<line x1="1538.9" y1="1829.5" x2="1538.9" y2="2011.4" stroke="#1a1a1a" stroke-width="2"/>
<line x1="1537.9" y1="2010.4" x2="1946.5" y2="2010.4" stroke="#1a1a1a" stroke-width="2"/>
<line x1="1528.6" y1="1830.5" x2="1538.9" y2="1830.5" stroke="#1a1a1a" stroke-width="2"/>
<text x="1525.19" y="1837.5" font-size="20.2" text-anchor="end" fill="#1a1a1a">1.0</text>
<line x1="1528.6" y1="1920.45" x2="1538.9" y2="1920.45" stroke="#1a1a1a" stroke-width="2"/>
<text x="1525.25" y="1927.45" font-size="20.2" text-anchor="end" fill="#1a1a1a">0.5</text>
<line x1="1528.6" y1="2010.4" x2="1538.9" y2="2010.4" stroke="#1a1a1a" stroke-width="2"/>
<text x="1525.19" y="2017.4" font-size="20.2" text-anchor="end" fill="#1a1a1a">0.0</text>
<line x1="1538.9" y1="2010.4" x2="1538.9" y2="2022.1" stroke="#1a1a1a" stroke-width="2"/>
<text x="1539.4" y="2045.1" font-size="20.2" text-anchor="middle" fill="#1a1a1a">1</text>
<line x1="1640.5" y1="2010.4" x2="1640.5" y2="2022.1" stroke="#1a1a1a" stroke-width="2"/>
<text x="1641" y="2045.1" font-size="20.2" text-anchor="middle" fill="#1a1a1a">10</text>
<line x1="1742.1" y1="2010.4" x2="1742.1" y2="2022.1" stroke="#1a1a1a" stroke-width="2"/>
<text x="1742.6" y="2045.1" font-size="20.2" text-anchor="middle" fill="#1a1a1a">100</text>
<line x1="1843.7" y1="2010.4" x2="1843.7" y2="2022.1" stroke="#1a1a1a" stroke-width="2"/>
<text x="1844.2" y="2045.1" font-size="20.2" text-anchor="middle" fill="#1a1a1a">1000</text>
<line x1="1945.3" y1="2010.4" x2="1945.3" y2="2022.1" stroke="#1a1a1a" stroke-width="2"/>
<text x="1945.8" y="2045.1" font-size="20.2" text-anchor="middle" fill="#1a1a1a">10000</text>
<text x="1602.5" y="2082.4" font-size="25.6" text-anchor="start" fill="#1a1a1a">FLAG-SP1 concentration, nM</text>
<text x="-1000" y="-1000" font-size="21.9" text-anchor="middle" fill="#1a1a1a" transform="rotate(-90 -1000 -1000)">Bound fraction</text>
<path d="M1609.92 2004.51 L1611.77 2004.27 L1613.63 2004.01 L1615.48 2003.75 L1617.34 2003.48 L1619.19 2003.2 L1621.05 2002.9 L1622.9 2002.6 L1624.76 2002.28 L1626.61 2001.95 L1628.47 2001.6 L1630.32 2001.25 L1632.18 2000.88 L1634.03 2000.5 L1635.89 2000.1 L1637.74 1999.68 L1639.6 1999.26 L1641.45 1998.81 L1643.31 1998.35 L1645.16 1997.87 L1647.02 1997.37 L1648.87 1996.86 L1650.73 1996.33 L1652.58 1995.77 L1654.44 1995.2 L1656.29 1994.61 L1658.15 1994 L1660 1993.36 L1661.86 1992.71 L1663.71 1992.03 L1665.57 1991.32 L1667.42 1990.6 L1669.28 1989.85 L1671.13 1989.07 L1672.99 1988.27 L1674.84 1987.44 L1676.7 1986.59 L1678.55 1985.71 L1680.41 1984.8 L1682.26 1983.87 L1684.12 1982.9 L1685.97 1981.91 L1687.83 1980.89 L1689.68 1979.84 L1691.54 1978.75 L1693.39 1977.64 L1695.25 1976.5 L1697.1 1975.32 L1698.96 1974.12 L1700.81 1972.88 L1702.67 1971.61 L1704.52 1970.32 L1706.38 1968.98 L1708.23 1967.62 L1710.09 1966.23 L1711.94 1964.8 L1713.8 1963.35 L1715.65 1961.86 L1717.51 1960.34 L1719.36 1958.8 L1721.22 1957.22 L1723.07 1955.62 L1724.93 1953.98 L1726.78 1952.32 L1728.64 1950.63 L1730.49 1948.92 L1732.35 1947.18 L1734.2 1945.42 L1736.06 1943.63 L1737.91 1941.82 L1739.77 1939.99 L1741.62 1938.14 L1743.48 1936.28 L1745.33 1934.39 L1747.19 1932.5 L1749.04 1930.58 L1750.9 1928.66 L1752.75 1926.72 L1754.61 1924.78 L1756.46 1922.83 L1758.32 1920.87 L1760.17 1918.91 L1762.03 1916.94 L1763.89 1914.98 L1765.74 1913.01 L1767.6 1911.05 L1769.45 1909.09 L1771.31 1907.14 L1773.16 1905.2 L1775.02 1903.26 L1776.87 1901.34 L1778.73 1899.43 L1780.58 1897.53 L1782.44 1895.65 L1784.29 1893.78 L1786.15 1891.94 L1788 1890.11 L1789.86 1888.3 L1791.71 1886.52 L1793.57 1884.76 L1795.42 1883.02 L1797.28 1881.31 L1799.13 1879.62 L1800.99 1877.96 L1802.84 1876.33 L1804.7 1874.73 L1806.55 1873.15 L1808.41 1871.61 L1810.26 1870.09 L1812.12 1868.61 L1813.97 1867.16 L1815.83 1865.73 L1817.68 1864.34 L1819.54 1862.98 L1821.39 1861.65 L1823.25 1860.36 L1825.1 1859.09 L1826.96 1857.86 L1828.81 1856.65 L1830.67 1855.48 L1832.52 1854.34 L1834.38 1853.23 L1836.23 1852.15 L1838.09 1851.1 L1839.94 1850.08 L1841.8 1849.09 L1843.65 1848.13 L1845.51 1847.19 L1847.36 1846.29 L1849.22 1845.41 L1851.07 1844.56 L1852.93 1843.73 L1854.78 1842.93 L1856.64 1842.16 L1858.49 1841.41 L1860.35 1840.69 L1862.2 1839.99 L1864.06 1839.31 L1865.91 1838.65 L1867.77 1838.02 L1869.62 1837.41 L1871.48 1836.82 L1873.33 1836.25 L1875.19 1835.7 L1877.04 1835.16 L1878.9 1834.65 L1880.75 1834.16 L1882.61 1833.68 L1884.46 1833.22 L1886.32 1832.78 L1888.17 1832.35 L1890.03 1831.94 L1891.88 1831.54 L1893.74 1831.16 L1895.59 1830.79 L1897.45 1830.43 L1899.3 1830.09 L1901.16 1829.76 L1903.01 1829.44 L1904.87 1829.14" fill="none" stroke="#111" stroke-width="3.4" stroke-linejoin="round" stroke-linecap="butt"/>
<circle cx="1609.92" cy="2010.4" r="5.4" fill="#111" stroke="none" stroke-width="0"/>
<line x1="1680.93" y1="2007.16" x2="1680.93" y2="1977.12" stroke="#111" stroke-width="4.6"/>
<rect x="1675.63" y="2005.01" width="10.6" height="4.3" fill="#111"/>
<rect x="1675.63" y="1974.97" width="10.6" height="4.3" fill="#111"/>
<circle cx="1680.93" cy="1992.41" r="5.4" fill="#111" stroke="none" stroke-width="0"/>
<circle cx="1711.52" cy="1972.62" r="5.4" fill="#111" stroke="none" stroke-width="0"/>
<line x1="1742.1" y1="1958.95" x2="1742.1" y2="1932.14" stroke="#111" stroke-width="4.6"/>
<rect x="1736.8" y="1956.8" width="10.6" height="4.3" fill="#111"/>
<rect x="1736.8" y="1929.99" width="10.6" height="4.3" fill="#111"/>
<circle cx="1742.1" cy="1944.74" r="5.4" fill="#111" stroke="none" stroke-width="0"/>
<line x1="1759.99" y1="1937.18" x2="1759.99" y2="1902.46" stroke="#111" stroke-width="4.6"/>
<rect x="1754.69" y="1935.03" width="10.6" height="4.3" fill="#111"/>
<rect x="1754.69" y="1900.31" width="10.6" height="4.3" fill="#111"/>
<circle cx="1759.99" cy="1919.55" r="5.4" fill="#111" stroke="none" stroke-width="0"/>
<line x1="1772.68" y1="1922.07" x2="1772.68" y2="1899.4" stroke="#111" stroke-width="4.6"/>
<rect x="1767.38" y="1919.92" width="10.6" height="4.3" fill="#111"/>
<rect x="1767.38" y="1897.25" width="10.6" height="4.3" fill="#111"/>
<circle cx="1772.68" cy="1909.48" r="5.4" fill="#111" stroke="none" stroke-width="0"/>
<line x1="1782.53" y1="1909.66" x2="1782.53" y2="1898.86" stroke="#111" stroke-width="4.6"/>
<rect x="1777.23" y="1907.51" width="10.6" height="4.3" fill="#111"/>
<rect x="1777.23" y="1896.71" width="10.6" height="4.3" fill="#111"/>
<circle cx="1782.53" cy="1903.18" r="5.4" fill="#111" stroke="none" stroke-width="0"/>
<line x1="1813.12" y1="1864.68" x2="1813.12" y2="1837.7" stroke="#111" stroke-width="4.6"/>
<rect x="1807.82" y="1862.53" width="10.6" height="4.3" fill="#111"/>
<rect x="1807.82" y="1835.55" width="10.6" height="4.3" fill="#111"/>
<circle cx="1813.12" cy="1850.47" r="5.4" fill="#111" stroke="none" stroke-width="0"/>
<circle cx="1874.28" cy="1839.49" r="5.4" fill="#111" stroke="none" stroke-width="0"/>
<circle cx="1904.87" cy="1835.36" r="5.4" fill="#111" stroke="none" stroke-width="0"/>
<text x="1131.5" y="844.2" font-size="25.6" text-anchor="start" fill="#1a1a1a">BBC3</text>
<path d="M989.03 1112.29 L991.42 1112.27 L993.8 1112.25 L996.19 1112.22 L998.57 1112.19 L1000.96 1112.15 L1003.34 1112.12 L1005.73 1112.07 L1008.12 1112.03 L1010.5 1111.98 L1012.89 1111.92 L1015.27 1111.86 L1017.66 1111.79 L1020.04 1111.71 L1022.43 1111.63 L1024.81 1111.53 L1027.2 1111.43 L1029.59 1111.31 L1031.97 1111.18 L1034.36 1111.04 L1036.74 1110.88 L1039.13 1110.71 L1041.51 1110.52 L1043.9 1110.3 L1046.28 1110.07 L1048.67 1109.8 L1051.06 1109.52 L1053.44 1109.2 L1055.83 1108.84 L1058.21 1108.45 L1060.6 1108.02 L1062.98 1107.55 L1065.37 1107.03 L1067.75 1106.45 L1070.14 1105.81 L1072.52 1105.11 L1074.91 1104.33 L1077.3 1103.48 L1079.68 1102.55 L1082.07 1101.52 L1084.45 1100.39 L1086.84 1099.15 L1089.22 1097.8 L1091.61 1096.32 L1093.99 1094.7 L1096.38 1092.94 L1098.77 1091.02 L1101.15 1088.93 L1103.54 1086.66 L1105.92 1084.21 L1108.31 1081.56 L1110.69 1078.7 L1113.08 1075.63 L1115.46 1072.34 L1117.85 1068.82 L1120.24 1065.07 L1122.62 1061.09 L1125.01 1056.89 L1127.39 1052.45 L1129.78 1047.8 L1132.16 1042.94 L1134.55 1037.88 L1136.93 1032.64 L1139.32 1027.23 L1141.7 1021.69 L1144.09 1016.04 L1146.48 1010.3 L1148.86 1004.5 L1151.25 998.67 L1153.63 992.85 L1156.02 987.07 L1158.4 981.34 L1160.79 975.71 L1163.17 970.2 L1165.56 964.84 L1167.95 959.64 L1170.33 954.62 L1172.72 949.8 L1175.1 945.2 L1177.49 940.82 L1179.87 936.66 L1182.26 932.74 L1184.64 929.05 L1187.03 925.58 L1189.42 922.34 L1191.8 919.32 L1194.19 916.51 L1196.57 913.91 L1198.96 911.5 L1201.34 909.27 L1203.73 907.23 L1206.11 905.34 L1208.5 903.61 L1210.88 902.03 L1213.27 900.57 L1215.66 899.25 L1218.04 898.04 L1220.43 896.93 L1222.81 895.93 L1225.2 895.01 L1227.58 894.18 L1229.97 893.42 L1232.35 892.74 L1234.74 892.11 L1237.13 891.55 L1239.51 891.04 L1241.9 890.57 L1244.28 890.15 L1246.67 889.77 L1249.05 889.43 L1251.44 889.11 L1253.82 888.83 L1256.21 888.58 L1258.6 888.35 L1260.98 888.14 L1263.37 887.95 L1265.75 887.78 L1268.14 887.63 L1270.52 887.49 L1272.91 887.36 L1275.29 887.25 L1277.68 887.15 L1280.06 887.05 L1282.45 886.97 L1284.84 886.9 L1287.22 886.83 L1289.61 886.77 L1291.99 886.71 L1294.38 886.66 L1296.76 886.62 L1299.15 886.58 L1301.53 886.54 L1303.92 886.51 L1306.31 886.48 L1308.69 886.45 L1311.08 886.42 L1313.46 886.4 L1315.85 886.38 L1318.23 886.36 L1320.62 886.35 L1323 886.33 L1325.39 886.32 L1327.78 886.31 L1330.16 886.3 L1332.55 886.29 L1334.93 886.28 L1337.32 886.27 L1339.7 886.27 L1342.09 886.26 L1344.47 886.25 L1346.86 886.25 L1349.25 886.24 L1351.63 886.24 L1354.02 886.24 L1356.4 886.23 L1358.79 886.23 L1361.17 886.23 L1363.56 886.22 L1365.94 886.22 L1368.33 886.22" fill="none" stroke="#2a3181" stroke-width="3.3" stroke-linejoin="round" stroke-linecap="butt"/>
<circle cx="997.8" cy="1113.4" r="2.4" fill="#2a3181" stroke="none" stroke-width="0"/>
<circle cx="1038.9" cy="1111.5" r="2.4" fill="#2a3181" stroke="none" stroke-width="0"/>
<circle cx="1079.3" cy="1105.2" r="2.4" fill="#2a3181" stroke="none" stroke-width="0"/>
<circle cx="1120.3" cy="1072.4" r="2.4" fill="#2a3181" stroke="none" stroke-width="0"/>
<line x1="1161" y1="943.6" x2="1161" y2="986.2" stroke="#2a3181" stroke-width="4.6" stroke-linecap="round"/>
<circle cx="1161" cy="965.7" r="2.1" fill="#ffffff" stroke="none" stroke-width="0"/>
<line x1="1202.1" y1="886.2" x2="1202.1" y2="942" stroke="#2a3181" stroke-width="4.6" stroke-linecap="round"/>
<circle cx="1202.1" cy="911.4" r="2.1" fill="#ffffff" stroke="none" stroke-width="0"/>
<line x1="1243.1" y1="900.4" x2="1243.1" y2="931.9" stroke="#2a3181" stroke-width="4.6" stroke-linecap="round"/>
<circle cx="1243.1" cy="915.8" r="2.1" fill="#ffffff" stroke="none" stroke-width="0"/>
<line x1="1283.5" y1="886.8" x2="1283.5" y2="949.3" stroke="#2a3181" stroke-width="4.6" stroke-linecap="round"/>
<circle cx="1283.5" cy="916.8" r="2.1" fill="#ffffff" stroke="none" stroke-width="0"/>
<line x1="1324.5" y1="915.8" x2="1324.5" y2="955.6" stroke="#2a3181" stroke-width="4.6" stroke-linecap="round"/>
<circle cx="1324.5" cy="935.1" r="2.1" fill="#ffffff" stroke="none" stroke-width="0"/>
<line x1="1365.6" y1="933.5" x2="1365.6" y2="995.7" stroke="#2a3181" stroke-width="4.6" stroke-linecap="round"/>
<circle cx="1365.6" cy="964.1" r="2.1" fill="#ffffff" stroke="none" stroke-width="0"/>
<line x1="974.2" y1="863.1" x2="974.2" y2="1137.2" stroke="#1a1a1a" stroke-width="2.3"/>
<line x1="973.2" y1="1136.2" x2="1394" y2="1136.2" stroke="#1a1a1a" stroke-width="2.3"/>
<line x1="971.2" y1="886.2" x2="974.2" y2="886.2" stroke="#1a1a1a" stroke-width="2.3"/>
<text x="964.44" y="892" font-size="21.6" text-anchor="end" fill="#1a1a1a">1.0</text>
<line x1="971.2" y1="999.35" x2="974.2" y2="999.35" stroke="#1a1a1a" stroke-width="2.3"/>
<text x="964.51" y="1005.15" font-size="21.6" text-anchor="end" fill="#1a1a1a">0.5</text>
<line x1="971.2" y1="1112.5" x2="974.2" y2="1112.5" stroke="#1a1a1a" stroke-width="2.3"/>
<text x="964.44" y="1118.3" font-size="21.6" text-anchor="end" fill="#1a1a1a">0</text>
<line x1="982.9" y1="1136.2" x2="982.9" y2="1139.2" stroke="#1a1a1a" stroke-width="2.3"/>
<text x="982.6" y="1165.9" font-size="21.6" text-anchor="middle" fill="#1a1a1a">0.1</text>
<line x1="1068.2" y1="1136.2" x2="1068.2" y2="1139.2" stroke="#1a1a1a" stroke-width="2.3"/>
<text x="1067.9" y="1165.9" font-size="21.6" text-anchor="middle" fill="#1a1a1a">1</text>
<line x1="1153.5" y1="1136.2" x2="1153.5" y2="1139.2" stroke="#1a1a1a" stroke-width="2.3"/>
<text x="1153.2" y="1165.9" font-size="21.6" text-anchor="middle" fill="#1a1a1a">10</text>
<line x1="1238.8" y1="1136.2" x2="1238.8" y2="1139.2" stroke="#1a1a1a" stroke-width="2.3"/>
<text x="1238.5" y="1165.9" font-size="21.6" text-anchor="middle" fill="#1a1a1a">100</text>
<line x1="1324.1" y1="1136.2" x2="1324.1" y2="1139.2" stroke="#1a1a1a" stroke-width="2.3"/>
<text x="1323.8" y="1165.9" font-size="21.6" text-anchor="middle" fill="#1a1a1a">1000</text>
<text x="1061.39" y="1213.5" font-size="25.6" text-anchor="start" fill="#1a1a1a">Oligo Concentration, nM</text>
<text x="928.4" y="993.5" font-size="25.2" text-anchor="middle" fill="#1a1a1a" transform="rotate(-90 928.4 993.5)">Bound fraction</text>
<text x="1716.7" y="844.2" font-size="25.6" text-anchor="start" fill="#1a1a1a">KLF3</text>
<path d="M1546.85 1116.75 L1549.25 1116.62 L1551.64 1116.48 L1554.03 1116.34 L1556.43 1116.18 L1558.82 1116.02 L1561.22 1115.85 L1563.61 1115.66 L1566 1115.47 L1568.4 1115.26 L1570.79 1115.04 L1573.19 1114.81 L1575.58 1114.56 L1577.97 1114.3 L1580.37 1114.02 L1582.76 1113.73 L1585.16 1113.42 L1587.55 1113.08 L1589.94 1112.73 L1592.34 1112.36 L1594.73 1111.97 L1597.13 1111.55 L1599.52 1111.11 L1601.91 1110.64 L1604.31 1110.15 L1606.7 1109.62 L1609.09 1109.07 L1611.49 1108.48 L1613.88 1107.86 L1616.28 1107.21 L1618.67 1106.52 L1621.06 1105.79 L1623.46 1105.02 L1625.85 1104.21 L1628.25 1103.35 L1630.64 1102.44 L1633.03 1101.49 L1635.43 1100.49 L1637.82 1099.43 L1640.22 1098.32 L1642.61 1097.15 L1645 1095.93 L1647.4 1094.64 L1649.79 1093.29 L1652.19 1091.87 L1654.58 1090.39 L1656.97 1088.83 L1659.37 1087.21 L1661.76 1085.51 L1664.15 1083.74 L1666.55 1081.89 L1668.94 1079.96 L1671.34 1077.96 L1673.73 1075.87 L1676.12 1073.7 L1678.52 1071.46 L1680.91 1069.13 L1683.31 1066.72 L1685.7 1064.23 L1688.09 1061.66 L1690.49 1059.02 L1692.88 1056.29 L1695.28 1053.49 L1697.67 1050.62 L1700.06 1047.68 L1702.46 1044.67 L1704.85 1041.6 L1707.25 1038.47 L1709.64 1035.28 L1712.03 1032.04 L1714.43 1028.76 L1716.82 1025.43 L1719.21 1022.07 L1721.61 1018.68 L1724 1015.27 L1726.4 1011.85 L1728.79 1008.41 L1731.18 1004.97 L1733.58 1001.53 L1735.97 998.09 L1738.37 994.68 L1740.76 991.28 L1743.15 987.92 L1745.55 984.58 L1747.94 981.29 L1750.34 978.04 L1752.73 974.84 L1755.12 971.69 L1757.52 968.6 L1759.91 965.58 L1762.31 962.62 L1764.7 959.73 L1767.09 956.91 L1769.49 954.17 L1771.88 951.5 L1774.27 948.91 L1776.67 946.4 L1779.06 943.97 L1781.46 941.62 L1783.85 939.36 L1786.24 937.17 L1788.64 935.07 L1791.03 933.04 L1793.43 931.09 L1795.82 929.22 L1798.21 927.43 L1800.61 925.72 L1803 924.07 L1805.4 922.5 L1807.79 921 L1810.18 919.56 L1812.58 918.2 L1814.97 916.89 L1817.36 915.65 L1819.76 914.47 L1822.15 913.34 L1824.55 912.27 L1826.94 911.26 L1829.33 910.29 L1831.73 909.38 L1834.12 908.51 L1836.52 907.68 L1838.91 906.9 L1841.3 906.16 L1843.7 905.46 L1846.09 904.8 L1848.49 904.17 L1850.88 903.58 L1853.27 903.01 L1855.67 902.48 L1858.06 901.98 L1860.46 901.51 L1862.85 901.06 L1865.24 900.64 L1867.64 900.24 L1870.03 899.86 L1872.42 899.5 L1874.82 899.17 L1877.21 898.85 L1879.61 898.55 L1882 898.27 L1884.39 898 L1886.79 897.75 L1889.18 897.52 L1891.58 897.29 L1893.97 897.08 L1896.36 896.88 L1898.76 896.7 L1901.15 896.52 L1903.55 896.36 L1905.94 896.2 L1908.33 896.05 L1910.73 895.92 L1913.12 895.79 L1915.52 895.66 L1917.91 895.55 L1920.3 895.44 L1922.7 895.34 L1925.09 895.24 L1927.48 895.15" fill="none" stroke="#2a3181" stroke-width="3.3" stroke-linejoin="round" stroke-linecap="butt"/>
<circle cx="1556.3" cy="1118.8" r="2.4" fill="#2a3181" stroke="none" stroke-width="0"/>
<circle cx="1597.3" cy="1118.8" r="2.4" fill="#2a3181" stroke="none" stroke-width="0"/>
<line x1="1638.3" y1="1101.4" x2="1638.3" y2="1118.8" stroke="#2a3181" stroke-width="4.6" stroke-linecap="round"/>
<circle cx="1638.3" cy="1109.3" r="2.1" fill="#ffffff" stroke="none" stroke-width="0"/>
<line x1="1679.4" y1="1057.2" x2="1679.4" y2="1109.3" stroke="#2a3181" stroke-width="4.6" stroke-linecap="round"/>
<circle cx="1679.4" cy="1082.5" r="2.1" fill="#ffffff" stroke="none" stroke-width="0"/>
<line x1="1719.8" y1="950.6" x2="1719.8" y2="1071.5" stroke="#2a3181" stroke-width="4.6" stroke-linecap="round"/>
<circle cx="1719.8" cy="1011.5" r="2.1" fill="#ffffff" stroke="none" stroke-width="0"/>
<line x1="1760.8" y1="892.5" x2="1760.8" y2="1030.4" stroke="#2a3181" stroke-width="4.6" stroke-linecap="round"/>
<circle cx="1760.8" cy="961" r="2.1" fill="#ffffff" stroke="none" stroke-width="0"/>
<line x1="1801.8" y1="896.3" x2="1801.8" y2="934.1" stroke="#2a3181" stroke-width="4.6" stroke-linecap="round"/>
<circle cx="1801.8" cy="915.8" r="2.1" fill="#ffffff" stroke="none" stroke-width="0"/>
<circle cx="1841.9" cy="926.3" r="2.4" fill="#2a3181" stroke="none" stroke-width="0"/>
<line x1="1883.6" y1="892.5" x2="1883.6" y2="942" stroke="#2a3181" stroke-width="4.6" stroke-linecap="round"/>
<circle cx="1883.6" cy="916.8" r="2.1" fill="#ffffff" stroke="none" stroke-width="0"/>
<line x1="1924" y1="932.6" x2="1924" y2="1003.6" stroke="#2a3181" stroke-width="4.6" stroke-linecap="round"/>
<circle cx="1924" cy="968.9" r="2.1" fill="#ffffff" stroke="none" stroke-width="0"/>
<line x1="1532.6" y1="870.4" x2="1532.6" y2="1144.1" stroke="#1a1a1a" stroke-width="2.3"/>
<line x1="1531.6" y1="1143.1" x2="1952.4" y2="1143.1" stroke="#1a1a1a" stroke-width="2.3"/>
<line x1="1529.6" y1="893.7" x2="1532.6" y2="893.7" stroke="#1a1a1a" stroke-width="2.3"/>
<text x="1522.84" y="899.5" font-size="21.6" text-anchor="end" fill="#1a1a1a">1.0</text>
<line x1="1529.6" y1="1006.25" x2="1532.6" y2="1006.25" stroke="#1a1a1a" stroke-width="2.3"/>
<text x="1522.91" y="1012.05" font-size="21.6" text-anchor="end" fill="#1a1a1a">0.5</text>
<line x1="1529.6" y1="1118.8" x2="1532.6" y2="1118.8" stroke="#1a1a1a" stroke-width="2.3"/>
<text x="1522.84" y="1124.6" font-size="21.6" text-anchor="end" fill="#1a1a1a">0</text>
<line x1="1540.7" y1="1143.1" x2="1540.7" y2="1146.1" stroke="#1a1a1a" stroke-width="2.3"/>
<text x="1540.4" y="1170.3" font-size="21.6" text-anchor="middle" fill="#1a1a1a">0.1</text>
<line x1="1626.3" y1="1143.1" x2="1626.3" y2="1146.1" stroke="#1a1a1a" stroke-width="2.3"/>
<text x="1626" y="1170.3" font-size="21.6" text-anchor="middle" fill="#1a1a1a">1</text>
<line x1="1711.9" y1="1143.1" x2="1711.9" y2="1146.1" stroke="#1a1a1a" stroke-width="2.3"/>
<text x="1711.6" y="1170.3" font-size="21.6" text-anchor="middle" fill="#1a1a1a">10</text>
<line x1="1797.5" y1="1143.1" x2="1797.5" y2="1146.1" stroke="#1a1a1a" stroke-width="2.3"/>
<text x="1797.2" y="1170.3" font-size="21.6" text-anchor="middle" fill="#1a1a1a">100</text>
<line x1="1883.1" y1="1143.1" x2="1883.1" y2="1146.1" stroke="#1a1a1a" stroke-width="2.3"/>
<text x="1882.8" y="1170.3" font-size="21.6" text-anchor="middle" fill="#1a1a1a">1000</text>
<text x="1621.39" y="1218.2" font-size="25.6" text-anchor="start" fill="#1a1a1a">Oligo Concentration, nM</text>
<text x="1390.8" y="816.7" font-size="25.6" text-anchor="start" fill="#1a1a1a">PAQMAN</text>
<text x="1994.15" y="820.6" font-size="25.6" text-anchor="start" fill="#1a1a1a">Additional high</text>
<text x="1994.91" y="851" font-size="25.6" text-anchor="start" fill="#1a1a1a">affinity binders</text>
<text x="2036.2" y="894.2" font-size="25.6" text-anchor="start" fill="#1a1a1a">BBC3</text>
<circle cx="2075.5" cy="1053.5" r="72.6" fill="#b9d6ea" stroke="none" stroke-width="0"/>
<circle cx="2075.5" cy="980.3" r="72.6" fill="#d3807b" stroke="none" stroke-width="0"/>
<circle cx="2075.5" cy="1053.5" r="72.6" fill="#c07876" clip-path="url(#vennclip)"/>
<text x="2072.5" y="961.6" font-size="25.6" text-anchor="middle" fill="#1a1a1a">64</text>
<text x="2072.5" y="1028.3" font-size="25.6" text-anchor="middle" fill="#1a1a1a">50</text>
<text x="2072.5" y="1094.6" font-size="25.6" text-anchor="middle" fill="#1a1a1a">18</text>
<text x="2042.4" y="1167" font-size="25.6" text-anchor="start" fill="#1a1a1a">KLF3</text>
<line x1="0" y1="926.5" x2="878.8" y2="926.5" stroke="#c9c9c9" stroke-width="2.4"/>
<line x1="0" y1="973.9" x2="878.8" y2="973.9" stroke="#c9c9c9" stroke-width="2.4"/>
<line x1="0" y1="1118.9" x2="878.8" y2="1118.9" stroke="#c9c9c9" stroke-width="2.4"/>
<line x1="0" y1="1167.1" x2="878.8" y2="1167.1" stroke="#c9c9c9" stroke-width="2.4"/>
<line x1="0" y1="1215.2" x2="878.8" y2="1215.2" stroke="#c9c9c9" stroke-width="2.4"/>
<line x1="1" y1="926.5" x2="1" y2="1215.2" stroke="#c9c9c9" stroke-width="2.4"/>
<line x1="133.9" y1="926.5" x2="133.9" y2="1215.2" stroke="#c9c9c9" stroke-width="2.4"/>
<line x1="557.9" y1="926.5" x2="557.9" y2="1215.2" stroke="#c9c9c9" stroke-width="2.4"/>
<line x1="681.2" y1="926.5" x2="681.2" y2="1215.2" stroke="#c9c9c9" stroke-width="2.4"/>
<line x1="877.8" y1="926.5" x2="877.8" y2="1215.2" stroke="#c9c9c9" stroke-width="2.4"/>
<line x1="300.2" y1="973.9" x2="300.2" y2="1215.2" stroke="#c9c9c9" stroke-width="2.4"/>
<line x1="401" y1="973.9" x2="401" y2="1215.2" stroke="#c9c9c9" stroke-width="2.4"/>
<text x="214.3" y="1059.6" font-size="25.6" text-anchor="middle" fill="#1a1a1a">BANC-seq</text>
<text x="350.6" y="1059.6" font-size="25.6" text-anchor="middle" fill="#1a1a1a">EMSA</text>
<text x="478.7" y="1059.6" font-size="25.6" text-anchor="middle" fill="#1a1a1a">PAQMAN</text>
<text x="579.7" y="1035.8" font-size="25.6" text-anchor="start" fill="#1a1a1a">Motif</text>
<text x="580.76" y="1083.2" font-size="25.6" text-anchor="start" fill="#1a1a1a">z-score</text>
<text x="777.5" y="1011.5" font-size="25.6" text-anchor="middle" fill="#1a1a1a">Number of</text>
<text x="779.8" y="1059.6" font-size="25.6" text-anchor="middle" fill="#1a1a1a">flanking SP1</text>
<text x="785.8" y="1107" font-size="25.6" text-anchor="middle" fill="#1a1a1a">motifs</text>
<text x="64.3" y="1156.2" font-size="25.6" text-anchor="middle" fill="#1a1a1a">BBC3</text>
<text x="214.3" y="1156.2" font-size="24.4" text-anchor="middle" fill="#1a1a1a">38.95</text>
<text x="347.5" y="1156.2" font-size="24.4" text-anchor="middle" fill="#1a1a1a">91.95</text>
<text x="478.5" y="1156.2" font-size="24.4" text-anchor="middle" fill="#1a1a1a">9.34</text>
<text x="622.4" y="1156.2" font-size="24.4" text-anchor="middle" fill="#1a1a1a">2.5</text>
<text x="777.4" y="1156.2" font-size="24.4" text-anchor="middle" fill="#1a1a1a">4</text>
<text x="66.5" y="1204.3" font-size="25.6" text-anchor="middle" fill="#1a1a1a">KLF3</text>
<text x="214.3" y="1204.3" font-size="24.4" text-anchor="middle" fill="#1a1a1a">125.96</text>
<text x="347.5" y="1204.3" font-size="24.4" text-anchor="middle" fill="#1a1a1a">112.6</text>
<text x="478.5" y="1204.3" font-size="24.4" text-anchor="middle" fill="#1a1a1a">16.4</text>
<text x="622.4" y="1204.3" font-size="24.4" text-anchor="middle" fill="#1a1a1a">2.5</text>
<text x="777.4" y="1204.3" font-size="24.4" text-anchor="middle" fill="#1a1a1a">0</text>
<text x="294.3" y="960.9" font-size="25.6" fill="#1a1a1a">K<tspan font-size="15" dy="8.3">d</tspan><tspan font-size="15" dy="-16.5">App</tspan><tspan dy="8.2"> (nM)</tspan></text>
<line x1="45.4" y1="2232.5" x2="767.6" y2="2232.5" stroke="#c9c9c9" stroke-width="2.4"/>
<line x1="45.4" y1="2280.8" x2="767.6" y2="2280.8" stroke="#c9c9c9" stroke-width="2.4"/>
<line x1="45.4" y1="2424.2" x2="767.6" y2="2424.2" stroke="#c9c9c9" stroke-width="2.4"/>
<line x1="45.4" y1="2473.3" x2="767.6" y2="2473.3" stroke="#c9c9c9" stroke-width="2.4"/>
<line x1="45.4" y1="2522" x2="767.6" y2="2522" stroke="#c9c9c9" stroke-width="2.4"/>
<line x1="46.4" y1="2232.5" x2="46.4" y2="2522" stroke="#c9c9c9" stroke-width="2.4"/>
<line x1="179" y1="2232.5" x2="179" y2="2522" stroke="#c9c9c9" stroke-width="2.4"/>
<line x1="446.4" y1="2232.5" x2="446.4" y2="2522" stroke="#c9c9c9" stroke-width="2.4"/>
<line x1="569.6" y1="2232.5" x2="569.6" y2="2522" stroke="#c9c9c9" stroke-width="2.4"/>
<line x1="766.6" y1="2232.5" x2="766.6" y2="2522" stroke="#c9c9c9" stroke-width="2.4"/>
<line x1="345.9" y1="2280.8" x2="345.9" y2="2522" stroke="#c9c9c9" stroke-width="2.4"/>
<text x="253.7" y="2366.5" font-size="25.6" text-anchor="middle" fill="#1a1a1a">BANC-seq</text>
<text x="393" y="2366.5" font-size="25.6" text-anchor="middle" fill="#1a1a1a">EMSA</text>
<text x="506.2" y="2341.7" font-size="25.6" text-anchor="middle" fill="#1a1a1a">Motif</text>
<text x="508" y="2389.9" font-size="25.6" text-anchor="middle" fill="#1a1a1a">z-score</text>
<text x="666.3" y="2317.8" font-size="25.6" text-anchor="middle" fill="#1a1a1a">Number of</text>
<text x="668.4" y="2365.6" font-size="25.6" text-anchor="middle" fill="#1a1a1a">flanking SP1</text>
<text x="674.7" y="2413.8" font-size="25.6" text-anchor="middle" fill="#1a1a1a">motifs</text>
<text x="116.2" y="2462.1" font-size="24.6" text-anchor="middle" fill="#1a1a1a">MEMO1</text>
<text x="253.9" y="2462.1" font-size="24.4" text-anchor="middle" fill="#1a1a1a">173.43</text>
<text x="392.3" y="2462.1" font-size="24.4" text-anchor="middle" fill="#1a1a1a">148.1</text>
<text x="502.8" y="2462.1" font-size="24.4" text-anchor="middle" fill="#1a1a1a">2.66</text>
<text x="666.5" y="2462.1" font-size="24.4" text-anchor="middle" fill="#1a1a1a">1</text>
<text x="115.5" y="2510.8" font-size="24.6" text-anchor="middle" fill="#1a1a1a">RNF223</text>
<text x="253.9" y="2510.8" font-size="24.4" text-anchor="middle" fill="#1a1a1a">41.64</text>
<text x="392.3" y="2510.8" font-size="24.4" text-anchor="middle" fill="#1a1a1a">173.4</text>
<text x="502.8" y="2510.8" font-size="24.4" text-anchor="middle" fill="#1a1a1a">2.66</text>
<text x="666.5" y="2510.8" font-size="24.4" text-anchor="middle" fill="#1a1a1a">5</text>
<text x="277.5" y="2268.2" font-size="25.6" fill="#1a1a1a">K<tspan font-size="15" dy="8.3">d</tspan><tspan font-size="15" dy="-16.5">App</tspan><tspan dy="8.2"> (nM)</tspan></text>
<text x="1422.3" y="30.7" font-size="25.6" text-anchor="start" fill="#1a1a1a">EMSA</text>
<text x="1131.7" y="85.6" font-size="25.6" text-anchor="start" fill="#1a1a1a">BBC3</text>
<text x="1717.1" y="85.6" font-size="25.6" text-anchor="start" fill="#1a1a1a">KLF3</text>
<text x="1422.2" y="1339.6" font-size="25.6" text-anchor="start" fill="#1a1a1a">EMSA</text>
<text x="1115.2" y="1385.5" font-size="25.6" text-anchor="start" fill="#1a1a1a">MEMO1</text>
<text x="1700.1" y="1390.8" font-size="25.6" text-anchor="start" fill="#1a1a1a">RNF223</text>
<path d="M960.4 165.9 L1348.7 118.8 L1348.7 165.9 Z" fill="url(#tri)"/>
<text x="1354.66" y="155.9" font-size="21.2" text-anchor="start" fill="#1a1a1a">FLAG-SP1 [0-4 μM]</text>
<path d="M1561.7 168.4 L1949.6 121.2 L1949.6 168.4 Z" fill="url(#tri)"/>
<text x="1956.96" y="156.8" font-size="21.2" text-anchor="start" fill="#1a1a1a">FLAG-SP1 [0-4 μM]</text>
<path d="M953.5 1474.3 L1326.8 1428.9 L1326.8 1474.3 Z" fill="url(#tri)"/>
<text x="1333.13" y="1463.5" font-size="20.3" text-anchor="start" fill="#1a1a1a">FLAG-SP1 [0-4 μM]</text>
<path d="M1555.6 1470.7 L1928.4 1425.2 L1928.4 1470.7 Z" fill="url(#tri)"/>
<text x="1935.73" y="1459.8" font-size="20.3" text-anchor="start" fill="#1a1a1a">FLAG-SP1 [0-4 μM]</text>
<rect x="958.5" y="174.5" width="393.5" height="187" fill="#f6f6f6" filter="url(#b1)"/>
<rect x="965.2" y="177.5" width="26" height="181" fill="#c8ccd0" fill-opacity="0.05" filter="url(#b3)"/>
<rect x="1002.3" y="177.5" width="26" height="181" fill="#c8ccd0" fill-opacity="0.05" filter="url(#b3)"/>
<rect x="1041" y="177.5" width="26" height="181" fill="#c8ccd0" fill-opacity="0.05" filter="url(#b3)"/>
<rect x="1080.2" y="177.5" width="26" height="181" fill="#c8ccd0" fill-opacity="0.05" filter="url(#b3)"/>
<rect x="1119.3" y="177.5" width="26" height="181" fill="#c8ccd0" fill-opacity="0.05" filter="url(#b3)"/>
<rect x="1158.4" y="177.5" width="26" height="181" fill="#c8ccd0" fill-opacity="0.05" filter="url(#b3)"/>
<rect x="1196.2" y="177.5" width="26" height="181" fill="#c8ccd0" fill-opacity="0.05" filter="url(#b3)"/>
<rect x="1233.8" y="177.5" width="26" height="181" fill="#c8ccd0" fill-opacity="0.05" filter="url(#b3)"/>
<rect x="1271.3" y="177.5" width="26" height="181" fill="#c8ccd0" fill-opacity="0.05" filter="url(#b3)"/>
<rect x="1307.1" y="177.5" width="26" height="181" fill="#c8ccd0" fill-opacity="0.05" filter="url(#b3)"/>
<rect x="1005.3" y="325" width="20" height="12" fill="#8a949c" fill-opacity="0.18" filter="url(#b2)"/>
<rect x="1044" y="325" width="20" height="12" fill="#8a949c" fill-opacity="0.2" filter="url(#b2)"/>
<rect x="1083.2" y="325" width="20" height="12" fill="#8a949c" fill-opacity="0.22" filter="url(#b2)"/>
<rect x="1122.3" y="325" width="20" height="12" fill="#8a949c" fill-opacity="0.24" filter="url(#b2)"/>
<rect x="1161.4" y="325" width="20" height="12" fill="#8a949c" fill-opacity="0.26" filter="url(#b2)"/>
<rect x="1199.2" y="325" width="20" height="12" fill="#8a949c" fill-opacity="0.28" filter="url(#b2)"/>
<rect x="1236.8" y="325" width="20" height="12" fill="#8a949c" fill-opacity="0.3" filter="url(#b2)"/>
<rect x="1274.3" y="325" width="20" height="12" fill="#8a949c" fill-opacity="0.32" filter="url(#b2)"/>
<rect x="1310.1" y="325" width="20" height="12" fill="#8a949c" fill-opacity="0.34" filter="url(#b2)"/>
<path d="M966.3 328 Q977.3 318.8 988.3 328" fill="none" stroke="#121212" stroke-opacity="1" stroke-width="3.8" stroke-linecap="round" filter="url(#b1)"/>
<path d="M1003.55 327.4 Q1015.4 318.2 1027.25 327.4" fill="none" stroke="#121212" stroke-opacity="1" stroke-width="3.8" stroke-linecap="round" filter="url(#b1)"/>
<path d="M1043 326.4 Q1054.5 317.2 1066 326.4" fill="none" stroke="#121212" stroke-opacity="1" stroke-width="3.8" stroke-linecap="round" filter="url(#b1)"/>
<path d="M1082.4 326.4 Q1093.4 317.2 1104.4 326.4" fill="none" stroke="#121212" stroke-opacity="0.95" stroke-width="3.8" stroke-linecap="round" filter="url(#b1)"/>
<path d="M1121.9 325.2 Q1132.6 316 1143.3 325.2" fill="none" stroke="#121212" stroke-opacity="0.9" stroke-width="3.8" stroke-linecap="round" filter="url(#b1)"/>
<path d="M1161.8 325 Q1171.6 315.8 1181.4 325" fill="none" stroke="#121212" stroke-opacity="0.75" stroke-width="3.8" stroke-linecap="round" filter="url(#b1)"/>
<path d="M1199.8 325.5 Q1209.8 316.3 1219.8 325.5" fill="none" stroke="#121212" stroke-opacity="0.45" stroke-width="3.8" stroke-linecap="round" filter="url(#b1)"/>
<path d="M1238 325.9 Q1247.5 316.7 1257 325.9" fill="none" stroke="#121212" stroke-opacity="0.18" stroke-width="3.8" stroke-linecap="round" filter="url(#b1)"/>
<path d="M1275.5 326.9 Q1285 317.7 1294.5 326.9" fill="none" stroke="#121212" stroke-opacity="0.12" stroke-width="3.8" stroke-linecap="round" filter="url(#b1)"/>
<path d="M1311.5 327.9 Q1320.5 318.7 1329.5 327.9" fill="none" stroke="#121212" stroke-opacity="0.1" stroke-width="3.8" stroke-linecap="round" filter="url(#b1)"/>
<ellipse cx="978.2" cy="343" rx="10.15" ry="3.3" fill="#121212" fill-opacity="1" filter="url(#b1)"/>
<ellipse cx="1015.3" cy="341.9" rx="10.7" ry="3.3" fill="#121212" fill-opacity="1" filter="url(#b1)"/>
<ellipse cx="1054" cy="341.4" rx="10.5" ry="3.3" fill="#121212" fill-opacity="1" filter="url(#b1)"/>
<ellipse cx="1093.2" cy="340.8" rx="10.15" ry="3.3" fill="#121212" fill-opacity="1" filter="url(#b1)"/>
<ellipse cx="1132.3" cy="339.7" rx="9.85" ry="3.3" fill="#121212" fill-opacity="1" filter="url(#b1)"/>
<ellipse cx="1171.4" cy="339.9" rx="10.65" ry="3.3" fill="#121212" fill-opacity="1" filter="url(#b1)"/>
<ellipse cx="1209.2" cy="340" rx="9.5" ry="3.3" fill="#121212" fill-opacity="1" filter="url(#b1)"/>
<ellipse cx="1246.8" cy="340.5" rx="9.75" ry="3.3" fill="#121212" fill-opacity="1" filter="url(#b1)"/>
<ellipse cx="1284.3" cy="342.2" rx="10.05" ry="3.3" fill="#121212" fill-opacity="1" filter="url(#b1)"/>
<ellipse cx="1320.1" cy="344.6" rx="8.55" ry="3.3" fill="#121212" fill-opacity="1" filter="url(#b1)"/>
<rect x="1010.25" y="210.3" width="21.5" height="5" rx="4.5" ry="2.5" fill="#121212" fill-opacity="0.13" filter="url(#b1)"/>
<rect x="1048" y="209.55" width="22" height="5.5" rx="4.75" ry="2.75" fill="#121212" fill-opacity="0.42" filter="url(#b1)"/>
<rect x="1084.7" y="209.55" width="23.6" height="5.5" rx="4.75" ry="2.75" fill="#121212" fill-opacity="0.62" filter="url(#b1)"/>
<rect x="1124.1" y="208.7" width="23" height="6" rx="5" ry="3" fill="#121212" fill-opacity="0.95" filter="url(#b1)"/>
<rect x="1162.35" y="208.3" width="24.3" height="6.2" rx="5.1" ry="3.1" fill="#121212" fill-opacity="0.97" filter="url(#b1)"/>
<rect x="1200.85" y="208.15" width="24.9" height="6.5" rx="5.25" ry="3.25" fill="#121212" fill-opacity="1" filter="url(#b1)"/>
<rect x="1240" y="206.05" width="24.8" height="9.5" rx="6.75" ry="4.75" fill="#121212" fill-opacity="1" filter="url(#b1)"/>
<rect x="1277.75" y="206.25" width="25.5" height="9.5" rx="6.75" ry="4.75" fill="#121212" fill-opacity="1" filter="url(#b1)"/>
<rect x="1318.15" y="205.85" width="21.3" height="7.5" rx="5.75" ry="3.75" fill="#121212" fill-opacity="0.95" filter="url(#b1)"/>
<rect x="1241.1" y="191.35" width="23" height="3.5" rx="3.75" ry="1.75" fill="#121212" fill-opacity="0.95" filter="url(#b1)"/>
<rect x="1279.55" y="191.95" width="24.3" height="3.5" rx="3.75" ry="1.75" fill="#121212" fill-opacity="0.95" filter="url(#b1)"/>
<rect x="1318.05" y="192.05" width="22.5" height="4.5" rx="4.25" ry="2.25" fill="#121212" fill-opacity="1" filter="url(#b1)"/>
<rect x="1203.3" y="194.5" width="20" height="3" rx="3.5" ry="1.5" fill="#121212" fill-opacity="0.08" filter="url(#b1)"/>
<rect x="1165.5" y="195.5" width="18" height="3" rx="3.5" ry="1.5" fill="#121212" fill-opacity="0.06" filter="url(#b1)"/>
<path d="M1354.2 189.1 C1357.6 189.1 1358.3 190.4 1358.3 193.4 L1358.3 198.75 C1358.3 202.05 1358.9 203.25 1362.2 203.25 C1358.9 203.25 1358.3 204.45 1358.3 207.75 L1358.3 213.1 C1358.3 216.1 1357.6 217.4 1354.2 217.4" fill="none" stroke="#111" stroke-width="2.4" stroke-linecap="round" stroke-linejoin="round"/>
<text x="1372.21" y="211.6" font-size="21.8" text-anchor="start" fill="#1a1a1a">Bound</text>
<text x="1352.34" y="261.1" font-size="21.2" text-anchor="start" fill="#1a1a1a">Streptavidin</text>
<text x="1351.79" y="286.6" font-size="21.2" text-anchor="start" fill="#1a1a1a">[Biotin tag]</text>
<path d="M1354.2 324.8 C1357.6 324.8 1358.3 326.1 1358.3 329.1 L1358.3 332.9 C1358.3 336.2 1358.9 337.4 1362.2 337.4 C1358.9 337.4 1358.3 338.6 1358.3 341.9 L1358.3 345.7 C1358.3 348.7 1357.6 350 1354.2 350" fill="none" stroke="#111" stroke-width="2.4" stroke-linecap="round" stroke-linejoin="round"/>
<text x="1372.32" y="347.3" font-size="21.8" text-anchor="start" fill="#1a1a1a">Unbound</text>
<rect x="1562.7" y="175.8" width="385.3" height="184" fill="#e6e7e9" filter="url(#b1)"/>
<rect x="1570.5" y="178.8" width="27" height="178" fill="#b8bcc2" fill-opacity="0.07" filter="url(#b3)"/>
<rect x="1604" y="178.8" width="27" height="178" fill="#b8bcc2" fill-opacity="0.07" filter="url(#b3)"/>
<rect x="1640" y="178.8" width="27" height="178" fill="#b8bcc2" fill-opacity="0.07" filter="url(#b3)"/>
<rect x="1679" y="178.8" width="27" height="178" fill="#b8bcc2" fill-opacity="0.07" filter="url(#b3)"/>
<rect x="1721" y="178.8" width="27" height="178" fill="#b8bcc2" fill-opacity="0.07" filter="url(#b3)"/>
<rect x="1762" y="178.8" width="27" height="178" fill="#b8bcc2" fill-opacity="0.07" filter="url(#b3)"/>
<rect x="1800.5" y="178.8" width="27" height="178" fill="#b8bcc2" fill-opacity="0.07" filter="url(#b3)"/>
<rect x="1838" y="178.8" width="27" height="178" fill="#b8bcc2" fill-opacity="0.07" filter="url(#b3)"/>
<rect x="1875" y="178.8" width="27" height="178" fill="#b8bcc2" fill-opacity="0.07" filter="url(#b3)"/>
<rect x="1910.5" y="178.8" width="27" height="178" fill="#b8bcc2" fill-opacity="0.07" filter="url(#b3)"/>
<rect x="1572.45" y="315.1" width="19.7" height="5.2" rx="4.6" ry="2.6" fill="#121212" fill-opacity="1" filter="url(#b1)"/>
<rect x="1605.15" y="313.4" width="22.5" height="5.2" rx="4.6" ry="2.6" fill="#121212" fill-opacity="1" filter="url(#b1)"/>
<rect x="1641.7" y="312.2" width="24.8" height="5.4" rx="4.7" ry="2.7" fill="#121212" fill-opacity="1" filter="url(#b1)"/>
<rect x="1680.05" y="312.1" width="27.7" height="5.6" rx="4.8" ry="2.8" fill="#121212" fill-opacity="1" filter="url(#b1)"/>
<rect x="1723.55" y="312.6" width="26.5" height="5.6" rx="4.8" ry="2.8" fill="#121212" fill-opacity="1" filter="url(#b1)"/>
<rect x="1766.05" y="314.1" width="23.7" height="5.4" rx="4.7" ry="2.7" fill="#121212" fill-opacity="1" filter="url(#b1)"/>
<rect x="1805.65" y="314.1" width="23.1" height="5.4" rx="4.7" ry="2.7" fill="#121212" fill-opacity="1" filter="url(#b1)"/>
<rect x="1844.75" y="315" width="21.9" height="3.6" rx="3.8" ry="1.8" fill="#121212" fill-opacity="0.75" filter="url(#b1)"/>
<rect x="1880.25" y="315.1" width="23.1" height="3.4" rx="3.7" ry="1.7" fill="#121212" fill-opacity="0.65" filter="url(#b1)"/>
<rect x="1918.15" y="315.1" width="20.1" height="3.4" rx="3.7" ry="1.7" fill="#121212" fill-opacity="0.6" filter="url(#b1)"/>
<ellipse cx="1591.3" cy="348.7" rx="5.9" ry="2.3" fill="#121212" fill-opacity="1" filter="url(#b1)"/>
<ellipse cx="1620.9" cy="347" rx="7.3" ry="2.3" fill="#121212" fill-opacity="1" filter="url(#b1)"/>
<ellipse cx="1655.5" cy="345.3" rx="8.15" ry="2.3" fill="#121212" fill-opacity="0.9" filter="url(#b1)"/>
<ellipse cx="1694.2" cy="344.2" rx="10.15" ry="2.3" fill="#121212" fill-opacity="0.9" filter="url(#b1)"/>
<ellipse cx="1737" cy="344.2" rx="10.1" ry="2.3" fill="#121212" fill-opacity="0.9" filter="url(#b1)"/>
<ellipse cx="1778.5" cy="344.6" rx="10.65" ry="2.3" fill="#121212" fill-opacity="0.85" filter="url(#b1)"/>
<ellipse cx="1816.3" cy="345.8" rx="8.3" ry="2.3" fill="#121212" fill-opacity="0.9" filter="url(#b1)"/>
<ellipse cx="1854.5" cy="347.6" rx="8" ry="2.3" fill="#121212" fill-opacity="0.95" filter="url(#b1)"/>
<ellipse cx="1892.7" cy="348.7" rx="8.25" ry="2.3" fill="#121212" fill-opacity="0.95" filter="url(#b1)"/>
<ellipse cx="1926.7" cy="349.3" rx="6.8" ry="2.3" fill="#121212" fill-opacity="1" filter="url(#b1)"/>
<rect x="1602.8" y="207.25" width="19.2" height="4.5" rx="4.25" ry="2.25" fill="#121212" fill-opacity="0.28" filter="url(#b1)"/>
<rect x="1638.9" y="207.5" width="22.6" height="5" rx="4.5" ry="2.5" fill="#121212" fill-opacity="0.4" filter="url(#b1)"/>
<rect x="1678.4" y="208.45" width="23.6" height="5.5" rx="4.75" ry="2.75" fill="#121212" fill-opacity="0.55" filter="url(#b1)"/>
<rect x="1719.55" y="208.95" width="24.3" height="5.5" rx="4.75" ry="2.75" fill="#121212" fill-opacity="0.62" filter="url(#b1)"/>
<rect x="1760.05" y="209.6" width="21.9" height="6" rx="5" ry="3" fill="#121212" fill-opacity="0.72" filter="url(#b1)"/>
<rect x="1797.35" y="209.7" width="22.5" height="7" rx="5.5" ry="3.5" fill="#121212" fill-opacity="0.95" filter="url(#b1)"/>
<rect x="1833" y="189.7" width="20" height="2" rx="3" ry="1" fill="#121212" fill-opacity="0.35" filter="url(#b1)"/>
<rect x="1869" y="186.8" width="18" height="2" rx="3" ry="1" fill="#121212" fill-opacity="0.45" filter="url(#b1)"/>
<rect x="1904.5" y="184.9" width="20" height="2.2" rx="3.1" ry="1.1" fill="#121212" fill-opacity="0.6" filter="url(#b1)"/>
<rect x="1833.5" y="204.8" width="23.6" height="11" rx="4" ry="5.5" fill="#121212" fill-opacity="1" filter="url(#b1)"/>
<rect x="1870.75" y="201.1" width="21.3" height="13" rx="4" ry="6.5" fill="#121212" fill-opacity="1" filter="url(#b1)"/>
<rect x="1906.8" y="196.6" width="21.4" height="13.6" rx="4" ry="6.8" fill="#121212" fill-opacity="1" filter="url(#b1)"/>
<path d="M1954 190.1 C1957.4 190.1 1958.1 191.4 1958.1 194.4 L1958.1 199.75 C1958.1 203.05 1958.7 204.25 1962 204.25 C1958.7 204.25 1958.1 205.45 1958.1 208.75 L1958.1 214.1 C1958.1 217.1 1957.4 218.4 1954 218.4" fill="none" stroke="#111" stroke-width="2.4" stroke-linecap="round" stroke-linejoin="round"/>
<text x="1972.01" y="213.1" font-size="21.8" text-anchor="start" fill="#1a1a1a">Bound</text>
<text x="1952.24" y="262.8" font-size="21.2" text-anchor="start" fill="#1a1a1a">Streptavidin</text>
<text x="1951.69" y="287.9" font-size="21.2" text-anchor="start" fill="#1a1a1a">[Biotin tag]</text>
<path d="M1954 325.4 C1957.4 325.4 1958.1 326.7 1958.1 329.7 L1958.1 334.8 C1958.1 338.1 1958.7 339.3 1962 339.3 C1958.7 339.3 1958.1 340.5 1958.1 343.8 L1958.1 348.9 C1958.1 351.9 1957.4 353.2 1954 353.2" fill="none" stroke="#111" stroke-width="2.4" stroke-linecap="round" stroke-linejoin="round"/>
<text x="1972.12" y="347.9" font-size="21.8" text-anchor="start" fill="#1a1a1a">Unbound</text>
<rect x="948.2" y="1482.4" width="380.2" height="219.1" fill="#efeff0" filter="url(#b1)"/>
<rect x="956.5" y="1485.4" width="27" height="213.1" fill="#c0c4c8" fill-opacity="0.06" filter="url(#b3)"/>
<rect x="992.5" y="1485.4" width="27" height="213.1" fill="#c0c4c8" fill-opacity="0.06" filter="url(#b3)"/>
<rect x="1030.5" y="1485.4" width="27" height="213.1" fill="#c0c4c8" fill-opacity="0.06" filter="url(#b3)"/>
<rect x="1068" y="1485.4" width="27" height="213.1" fill="#c0c4c8" fill-opacity="0.06" filter="url(#b3)"/>
<rect x="1105.5" y="1485.4" width="27" height="213.1" fill="#c0c4c8" fill-opacity="0.06" filter="url(#b3)"/>
<rect x="1144.5" y="1485.4" width="27" height="213.1" fill="#c0c4c8" fill-opacity="0.06" filter="url(#b3)"/>
<rect x="1183" y="1485.4" width="27" height="213.1" fill="#c0c4c8" fill-opacity="0.06" filter="url(#b3)"/>
<rect x="1220.5" y="1485.4" width="27" height="213.1" fill="#c0c4c8" fill-opacity="0.06" filter="url(#b3)"/>
<rect x="1257.5" y="1485.4" width="27" height="213.1" fill="#c0c4c8" fill-opacity="0.06" filter="url(#b3)"/>
<rect x="1293.5" y="1485.4" width="27" height="213.1" fill="#c0c4c8" fill-opacity="0.06" filter="url(#b3)"/>
<rect x="962" y="1616" width="20" height="12" fill="#9aa2aa" fill-opacity="0.18" filter="url(#b2)"/>
<rect x="998" y="1616" width="20" height="12" fill="#9aa2aa" fill-opacity="0.16" filter="url(#b2)"/>
<rect x="1036" y="1616" width="20" height="12" fill="#9aa2aa" fill-opacity="0.14" filter="url(#b2)"/>
<rect x="1073.5" y="1622" width="20" height="12" fill="#9aa2aa" fill-opacity="0.12" filter="url(#b2)"/>
<rect x="1111" y="1622" width="20" height="12" fill="#9aa2aa" fill-opacity="0.1" filter="url(#b2)"/>
<rect x="1150" y="1622" width="20" height="12" fill="#9aa2aa" fill-opacity="0.08" filter="url(#b2)"/>
<rect x="1188.5" y="1622" width="20" height="12" fill="#9aa2aa" fill-opacity="0.06" filter="url(#b2)"/>
<ellipse cx="970" cy="1656.35" rx="8.95" ry="5" fill="#3a3a40" fill-opacity="0.28" filter="url(#b3)"/>
<rect x="959.35" y="1658.35" width="21.3" height="20.5" rx="4.5" ry="10.25" fill="#121212" fill-opacity="1" filter="url(#b1)"/>
<ellipse cx="1004.7" cy="1659.45" rx="10.79" ry="5" fill="#3a3a40" fill-opacity="0.28" filter="url(#b3)"/>
<rect x="991.85" y="1661.45" width="25.7" height="20.7" rx="4.5" ry="10.35" fill="#121212" fill-opacity="1" filter="url(#b1)"/>
<ellipse cx="1042.5" cy="1663.6" rx="9.95" ry="5" fill="#3a3a40" fill-opacity="0.28" filter="url(#b3)"/>
<rect x="1030.65" y="1665.6" width="23.7" height="20" rx="4.5" ry="10" fill="#121212" fill-opacity="1" filter="url(#b1)"/>
<ellipse cx="1079.5" cy="1667.05" rx="10.46" ry="5" fill="#3a3a40" fill-opacity="0.28" filter="url(#b3)"/>
<rect x="1067.05" y="1669.05" width="24.9" height="19.5" rx="4.5" ry="9.75" fill="#121212" fill-opacity="1" filter="url(#b1)"/>
<ellipse cx="1117.5" cy="1666.95" rx="10.5" ry="5" fill="#3a3a40" fill-opacity="0.28" filter="url(#b3)"/>
<rect x="1105" y="1668.95" width="25" height="19.3" rx="4.5" ry="9.65" fill="#121212" fill-opacity="1" filter="url(#b1)"/>
<ellipse cx="1158" cy="1664.6" rx="10.25" ry="5" fill="#3a3a40" fill-opacity="0.28" filter="url(#b3)"/>
<rect x="1145.8" y="1666.6" width="24.4" height="16" rx="4.5" ry="8" fill="#121212" fill-opacity="1" filter="url(#b1)"/>
<ellipse cx="1198" cy="1663.5" rx="10.08" ry="5" fill="#3a3a40" fill-opacity="0.28" filter="url(#b3)"/>
<rect x="1186" y="1665.5" width="24" height="16" rx="4.5" ry="8" fill="#121212" fill-opacity="1" filter="url(#b1)"/>
<ellipse cx="1235.1" cy="1665.85" rx="8.82" ry="5" fill="#3a3a40" fill-opacity="0.28" filter="url(#b3)"/>
<rect x="1224.6" y="1667.85" width="21" height="14.7" rx="4.5" ry="7.35" fill="#121212" fill-opacity="1" filter="url(#b1)"/>
<ellipse cx="1272.5" cy="1664" rx="9" ry="4" fill="#3a3a40" fill-opacity="0.35" filter="url(#b2)"/>
<path d="M1263 1677 Q1272.5 1667 1282 1677" fill="none" stroke="#121212" stroke-opacity="1" stroke-width="7" stroke-linecap="round" filter="url(#b1)"/>
<rect x="1264.5" y="1664.25" width="16" height="3.5" rx="3.75" ry="1.75" fill="#121212" fill-opacity="0.45" filter="url(#b1)"/>
<ellipse cx="1307.1" cy="1664" rx="9" ry="4" fill="#3a3a40" fill-opacity="0.35" filter="url(#b2)"/>
<path d="M1297.6 1677 Q1307.1 1667 1316.6 1677" fill="none" stroke="#121212" stroke-opacity="1" stroke-width="7" stroke-linecap="round" filter="url(#b1)"/>
<rect x="1299.1" y="1664.25" width="16" height="3.5" rx="3.75" ry="1.75" fill="#121212" fill-opacity="0.45" filter="url(#b1)"/>
<rect x="1002.2" y="1520.05" width="24" height="7.5" rx="5.75" ry="3.75" fill="#121212" fill-opacity="0.16" filter="url(#b15)"/>
<rect x="1040.25" y="1519.8" width="22.7" height="8" rx="6" ry="4" fill="#121212" fill-opacity="0.36" filter="url(#b15)"/>
<rect x="1076.6" y="1519.8" width="21" height="8" rx="6" ry="4" fill="#121212" fill-opacity="0.46" filter="url(#b15)"/>
<rect x="1112.85" y="1519.55" width="21.5" height="8.5" rx="6.25" ry="4.25" fill="#121212" fill-opacity="0.72" filter="url(#b15)"/>
<rect x="1148.6" y="1520.05" width="21" height="7.5" rx="5.75" ry="3.75" fill="#121212" fill-opacity="0.95" filter="url(#b15)"/>
<rect x="1183.8" y="1520.05" width="22" height="7.5" rx="5.75" ry="3.75" fill="#121212" fill-opacity="1" filter="url(#b15)"/>
<ellipse cx="1232" cy="1531.6" rx="9.72" ry="7" fill="#3a3a40" fill-opacity="0.3" filter="url(#b3)"/>
<rect x="1221.2" y="1514.6" width="21.6" height="16" rx="4.5" ry="8" fill="#121212" fill-opacity="1" filter="url(#b1)"/>
<ellipse cx="1269.1" cy="1529.3" rx="9.45" ry="7" fill="#3a3a40" fill-opacity="0.3" filter="url(#b3)"/>
<rect x="1258.6" y="1512.3" width="21" height="16" rx="4.5" ry="8" fill="#121212" fill-opacity="1" filter="url(#b1)"/>
<ellipse cx="1305.7" cy="1529" rx="9.68" ry="7" fill="#3a3a40" fill-opacity="0.3" filter="url(#b3)"/>
<rect x="1294.95" y="1511" width="21.5" height="17" rx="4.5" ry="8.5" fill="#121212" fill-opacity="1" filter="url(#b1)"/>
<rect x="1262" y="1494.3" width="14" height="2.2" rx="3.1" ry="1.1" fill="#121212" fill-opacity="0.45" filter="url(#b1)"/>
<rect x="1298" y="1493" width="14" height="2" rx="3" ry="1" fill="#121212" fill-opacity="0.15" filter="url(#b1)"/>
<path d="M1334.3 1499.2 C1337.7 1499.2 1338.4 1500.5 1338.4 1503.5 L1338.4 1508.8 C1338.4 1512.1 1339 1513.3 1342.3 1513.3 C1339 1513.3 1338.4 1514.5 1338.4 1517.8 L1338.4 1523.1 C1338.4 1526.1 1337.7 1527.4 1334.3 1527.4" fill="none" stroke="#111" stroke-width="2.4" stroke-linecap="round" stroke-linejoin="round"/>
<text x="1351.2" y="1521.5" font-size="21.9" text-anchor="start" fill="#1a1a1a">Bound</text>
<text x="1332.14" y="1585.3" font-size="21.2" text-anchor="start" fill="#1a1a1a">Streptavidin</text>
<text x="1331.59" y="1610.7" font-size="21.2" text-anchor="start" fill="#1a1a1a">[Biotin tag]</text>
<path d="M1334.3 1670.6 C1337.7 1670.6 1338.4 1671.9 1338.4 1674.9 L1338.4 1680.45 C1338.4 1683.75 1339 1684.95 1342.3 1684.95 C1339 1684.95 1338.4 1686.15 1338.4 1689.45 L1338.4 1695 C1338.4 1698 1337.7 1699.3 1334.3 1699.3" fill="none" stroke="#111" stroke-width="2.4" stroke-linecap="round" stroke-linejoin="round"/>
<text x="1351.31" y="1692.9" font-size="21.9" text-anchor="start" fill="#1a1a1a">Unbound</text>
<rect x="1552" y="1476.5" width="377" height="219" fill="#f4f4f4" filter="url(#b1)"/>
<rect x="1560" y="1479.5" width="27" height="213" fill="#c4c8cc" fill-opacity="0.05" filter="url(#b3)"/>
<rect x="1596.5" y="1479.5" width="27" height="213" fill="#c4c8cc" fill-opacity="0.05" filter="url(#b3)"/>
<rect x="1632.5" y="1479.5" width="27" height="213" fill="#c4c8cc" fill-opacity="0.05" filter="url(#b3)"/>
<rect x="1670.5" y="1479.5" width="27" height="213" fill="#c4c8cc" fill-opacity="0.05" filter="url(#b3)"/>
<rect x="1708.5" y="1479.5" width="27" height="213" fill="#c4c8cc" fill-opacity="0.05" filter="url(#b3)"/>
<rect x="1747" y="1479.5" width="27" height="213" fill="#c4c8cc" fill-opacity="0.05" filter="url(#b3)"/>
<rect x="1785.5" y="1479.5" width="27" height="213" fill="#c4c8cc" fill-opacity="0.05" filter="url(#b3)"/>
<rect x="1822.5" y="1479.5" width="27" height="213" fill="#c4c8cc" fill-opacity="0.05" filter="url(#b3)"/>
<rect x="1858.5" y="1479.5" width="27" height="213" fill="#c4c8cc" fill-opacity="0.05" filter="url(#b3)"/>
<rect x="1894" y="1479.5" width="27" height="213" fill="#c4c8cc" fill-opacity="0.05" filter="url(#b3)"/>
<rect x="1563.5" y="1600" width="20" height="14" fill="#a0a8b0" fill-opacity="0.13" filter="url(#b2)"/>
<rect x="1600" y="1600" width="20" height="14" fill="#a0a8b0" fill-opacity="0.12" filter="url(#b2)"/>
<rect x="1636" y="1600" width="20" height="14" fill="#a0a8b0" fill-opacity="0.11" filter="url(#b2)"/>
<rect x="1674" y="1600" width="20" height="14" fill="#a0a8b0" fill-opacity="0.09" filter="url(#b2)"/>
<rect x="1712" y="1600" width="20" height="14" fill="#a0a8b0" fill-opacity="0.08" filter="url(#b2)"/>
<rect x="1750.5" y="1600" width="20" height="14" fill="#a0a8b0" fill-opacity="0.07" filter="url(#b2)"/>
<rect x="1789" y="1600" width="20" height="14" fill="#a0a8b0" fill-opacity="0.06" filter="url(#b2)"/>
<ellipse cx="1572.5" cy="1644" rx="11.38" ry="6" fill="#40444a" fill-opacity="0.22" filter="url(#b3)"/>
<rect x="1559.85" y="1646.2" width="25.3" height="9.6" rx="6.8" ry="4.8" fill="#121212" fill-opacity="1" filter="url(#b1)"/>
<ellipse cx="1609.2" cy="1643.1" rx="11.7" ry="6" fill="#40444a" fill-opacity="0.22" filter="url(#b3)"/>
<rect x="1596.2" y="1645.3" width="26" height="9.6" rx="6.8" ry="4.8" fill="#121212" fill-opacity="1" filter="url(#b1)"/>
<ellipse cx="1645.5" cy="1642.8" rx="11.93" ry="6" fill="#40444a" fill-opacity="0.22" filter="url(#b3)"/>
<rect x="1632.25" y="1645.3" width="26.5" height="9" rx="6.5" ry="4.5" fill="#121212" fill-opacity="1" filter="url(#b1)"/>
<ellipse cx="1683.6" cy="1641.1" rx="12.15" ry="6" fill="#40444a" fill-opacity="0.22" filter="url(#b3)"/>
<rect x="1670.1" y="1643.6" width="27" height="9" rx="6.5" ry="4.5" fill="#121212" fill-opacity="1" filter="url(#b1)"/>
<ellipse cx="1722.2" cy="1641.1" rx="11.93" ry="6" fill="#40444a" fill-opacity="0.22" filter="url(#b3)"/>
<rect x="1708.95" y="1643.6" width="26.5" height="9" rx="6.5" ry="4.5" fill="#121212" fill-opacity="1" filter="url(#b1)"/>
<ellipse cx="1760.3" cy="1641.1" rx="12.2" ry="6" fill="#40444a" fill-opacity="0.22" filter="url(#b3)"/>
<rect x="1746.75" y="1643.6" width="27.1" height="9" rx="6.5" ry="4.5" fill="#121212" fill-opacity="1" filter="url(#b1)"/>
<ellipse cx="1799.3" cy="1643.4" rx="12.2" ry="6" fill="#40444a" fill-opacity="0.22" filter="url(#b3)"/>
<rect x="1785.75" y="1645.4" width="27.1" height="10" rx="7" ry="5" fill="#121212" fill-opacity="1" filter="url(#b1)"/>
<rect x="1824.05" y="1649.35" width="22.5" height="5.5" rx="4.75" ry="2.75" fill="#121212" fill-opacity="1" filter="url(#b1)"/>
<path d="M1861.5 1654.8 Q1871.9 1650.4 1882.3 1654.8" fill="none" stroke="#121212" stroke-opacity="1" stroke-width="3.8" stroke-linecap="round" filter="url(#b1)"/>
<path d="M1896.45 1657.2 Q1906.6 1652.8 1916.75 1657.2" fill="none" stroke="#121212" stroke-opacity="0.7" stroke-width="3.4" stroke-linecap="round" filter="url(#b1)"/>
<ellipse cx="1575.1" cy="1676.9" rx="9.3" ry="2.25" fill="#121212" fill-opacity="0.85" filter="url(#b1)"/>
<ellipse cx="1610.3" cy="1676.9" rx="9.6" ry="2.25" fill="#121212" fill-opacity="0.85" filter="url(#b1)"/>
<ellipse cx="1646.6" cy="1676.9" rx="9.85" ry="2.25" fill="#121212" fill-opacity="0.85" filter="url(#b1)"/>
<ellipse cx="1684.4" cy="1674.6" rx="10.5" ry="2.25" fill="#121212" fill-opacity="0.85" filter="url(#b1)"/>
<ellipse cx="1721.9" cy="1674.6" rx="9.6" ry="2.25" fill="#121212" fill-opacity="0.85" filter="url(#b1)"/>
<ellipse cx="1759.8" cy="1674.1" rx="10.15" ry="2.25" fill="#121212" fill-opacity="0.85" filter="url(#b1)"/>
<ellipse cx="1797.8" cy="1676.3" rx="9.85" ry="2.25" fill="#121212" fill-opacity="0.85" filter="url(#b1)"/>
<ellipse cx="1834.5" cy="1678.6" rx="10.4" ry="2.25" fill="#121212" fill-opacity="0.85" filter="url(#b1)"/>
<ellipse cx="1870.8" cy="1679.7" rx="9.55" ry="2.25" fill="#121212" fill-opacity="0.85" filter="url(#b1)"/>
<ellipse cx="1906.3" cy="1682" rx="10.15" ry="2.25" fill="#121212" fill-opacity="0.85" filter="url(#b1)"/>
<rect x="1601.9" y="1513.2" width="21.4" height="6" rx="5" ry="3" fill="#121212" fill-opacity="0.1" filter="url(#b15)"/>
<rect x="1640.2" y="1513.2" width="21.4" height="6" rx="5" ry="3" fill="#121212" fill-opacity="0.18" filter="url(#b15)"/>
<rect x="1677.4" y="1513.2" width="21.4" height="6" rx="5" ry="3" fill="#121212" fill-opacity="0.25" filter="url(#b15)"/>
<rect x="1713.95" y="1512.95" width="21.5" height="6.5" rx="5.25" ry="3.25" fill="#121212" fill-opacity="0.33" filter="url(#b15)"/>
<rect x="1751.85" y="1513.9" width="20.3" height="7" rx="5.5" ry="3.5" fill="#121212" fill-opacity="0.45" filter="url(#b15)"/>
<rect x="1787.45" y="1515" width="23.1" height="7" rx="5.5" ry="3.5" fill="#121212" fill-opacity="0.5" filter="url(#b15)"/>
<rect x="1826.41" y="1517.4" width="21.78" height="15" fill="#30343a" fill-opacity="0.35" filter="url(#b2)"/>
<rect x="1825.2" y="1511.9" width="24.2" height="11" rx="4" ry="5.5" fill="#121212" fill-opacity="0.92" filter="url(#b1)"/>
<rect x="1863.53" y="1516.2" width="20.34" height="15" fill="#30343a" fill-opacity="0.35" filter="url(#b2)"/>
<rect x="1862.4" y="1509.7" width="22.6" height="13" rx="4" ry="6.5" fill="#121212" fill-opacity="0.88" filter="url(#b1)"/>
<rect x="1899.6" y="1514.5" width="19.8" height="15" fill="#30343a" fill-opacity="0.35" filter="url(#b2)"/>
<rect x="1898.5" y="1507.5" width="22" height="14" rx="4" ry="7" fill="#121212" fill-opacity="0.95" filter="url(#b1)"/>
<rect x="1753" y="1491" width="18" height="2" rx="3" ry="1" fill="#121212" fill-opacity="0.12" filter="url(#b1)"/>
<rect x="1789" y="1491" width="20" height="2" rx="3" ry="1" fill="#121212" fill-opacity="0.18" filter="url(#b1)"/>
<rect x="1825.8" y="1490.85" width="24.8" height="4.5" rx="4.25" ry="2.25" fill="#121212" fill-opacity="1" filter="url(#b1)"/>
<rect x="1863.45" y="1490.7" width="23.1" height="6" rx="5" ry="3" fill="#121212" fill-opacity="1" filter="url(#b1)"/>
<rect x="1898.5" y="1490.7" width="24.2" height="7" rx="5.5" ry="3.5" fill="#121212" fill-opacity="1" filter="url(#b1)"/>
<path d="M1936 1492.2 C1939.4 1492.2 1940.1 1493.5 1940.1 1496.5 L1940.1 1501.5 C1940.1 1504.8 1940.7 1506 1944 1506 C1940.7 1506 1940.1 1507.2 1940.1 1510.5 L1940.1 1515.5 C1940.1 1518.5 1939.4 1519.8 1936 1519.8" fill="none" stroke="#111" stroke-width="2.4" stroke-linecap="round" stroke-linejoin="round"/>
<text x="1953.4" y="1514.5" font-size="21.9" text-anchor="start" fill="#1a1a1a">Bound</text>
<text x="1934.44" y="1578.4" font-size="21.2" text-anchor="start" fill="#1a1a1a">Streptavidin</text>
<text x="1933.89" y="1604.4" font-size="21.2" text-anchor="start" fill="#1a1a1a">[Biotin tag]</text>
<path d="M1936 1664.3 C1939.4 1664.3 1940.1 1665.6 1940.1 1668.6 L1940.1 1673.25 C1940.1 1676.55 1940.7 1677.75 1944 1677.75 C1940.7 1677.75 1940.1 1678.95 1940.1 1682.25 L1940.1 1686.9 C1940.1 1689.9 1939.4 1691.2 1936 1691.2" fill="none" stroke="#111" stroke-width="2.4" stroke-linecap="round" stroke-linejoin="round"/>
<text x="1953.51" y="1685.3" font-size="21.9" text-anchor="start" fill="#1a1a1a">Unbound</text>
</svg>
</body></html>
